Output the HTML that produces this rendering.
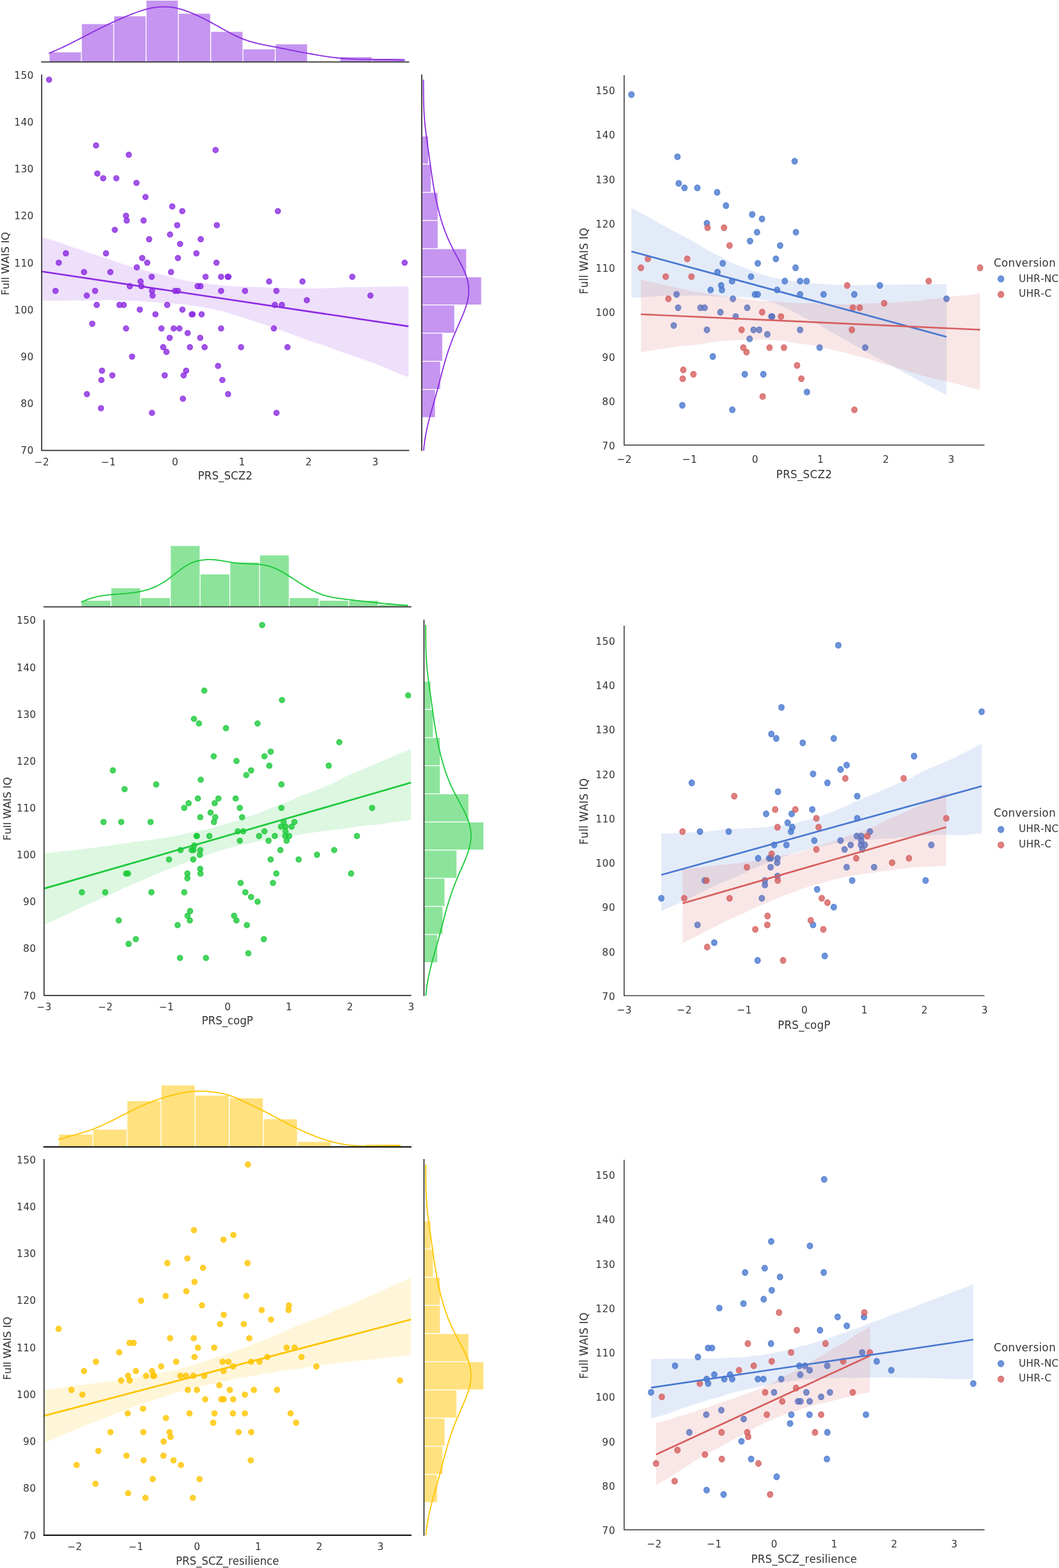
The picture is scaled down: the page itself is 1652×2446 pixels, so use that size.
<!DOCTYPE html>
<html lang="en"><head><meta charset="utf-8"><title>PRS vs Full WAIS IQ</title>
<style>html,body{margin:0;padding:0;background:#fff}svg{display:block}</style></head>
<body>
<svg width="1652" height="2446" viewBox="0 0 1652 2446" font-family='"DejaVu Sans","Liberation Sans",sans-serif' fill="#333333">
<rect width="1652" height="2446" fill="#fff"/>
<clipPath id="c1"><rect x="65" y="117" width="572.5" height="585.7"/></clipPath>
<g clip-path="url(#c1)">
<g fill="#8b2be2" stroke="#8b2be2" fill-opacity="0.8" stroke-opacity="0.8" stroke-width="1.39"><circle cx="76.55" cy="124.32" r="4.17"/><circle cx="149.83" cy="226.82" r="4.17"/><circle cx="336.26" cy="234.14" r="4.17"/><circle cx="151.81" cy="270.75" r="4.17"/><circle cx="160.97" cy="278.07" r="4.17"/><circle cx="181.48" cy="278.07" r="4.17"/><circle cx="212.91" cy="285.39" r="4.17"/><circle cx="226.97" cy="307.35" r="4.17"/><circle cx="268.71" cy="322" r="4.17"/><circle cx="284.32" cy="329.32" r="4.17"/><circle cx="196.57" cy="336.64" r="4.17"/><circle cx="276.41" cy="351.28" r="4.17"/><circle cx="338.34" cy="351.28" r="4.17"/><circle cx="265.27" cy="365.92" r="4.17"/><circle cx="313.15" cy="373.24" r="4.17"/><circle cx="306.39" cy="395.21" r="4.17"/><circle cx="221.87" cy="402.53" r="4.17"/><circle cx="277.55" cy="402.53" r="4.17"/><circle cx="337.72" cy="409.85" r="4.17"/><circle cx="213.43" cy="417.17" r="4.17"/><circle cx="266.83" cy="424.49" r="4.17"/><circle cx="236.65" cy="431.81" r="4.17"/><circle cx="320.65" cy="431.81" r="4.17"/><circle cx="344.9" cy="431.81" r="4.17"/><circle cx="355.31" cy="431.81" r="4.17"/><circle cx="219.26" cy="439.13" r="4.17"/><circle cx="202.5" cy="446.46" r="4.17"/><circle cx="220.51" cy="446.46" r="4.17"/><circle cx="308.36" cy="446.46" r="4.17"/><circle cx="273.08" cy="453.78" r="4.17"/><circle cx="277.55" cy="453.78" r="4.17"/><circle cx="344.9" cy="453.78" r="4.17"/><circle cx="148.38" cy="453.78" r="4.17"/><circle cx="238" cy="461.1" r="4.17"/><circle cx="150.88" cy="475.74" r="4.17"/><circle cx="186.37" cy="475.74" r="4.17"/><circle cx="193.03" cy="475.74" r="4.17"/><circle cx="260.8" cy="475.74" r="4.17"/><circle cx="218.12" cy="483.06" r="4.17"/><circle cx="242.48" cy="490.38" r="4.17"/><circle cx="299.2" cy="490.38" r="4.17"/><circle cx="143.9" cy="505.03" r="4.17"/><circle cx="196.68" cy="512.35" r="4.17"/><circle cx="270.89" cy="512.35" r="4.17"/><circle cx="279.84" cy="512.35" r="4.17"/><circle cx="344.9" cy="512.35" r="4.17"/><circle cx="197.72" cy="343.96" r="4.17"/><circle cx="223.95" cy="343.96" r="4.17"/><circle cx="232.69" cy="373.24" r="4.17"/><circle cx="102.78" cy="395.21" r="4.17"/><circle cx="165.34" cy="395.21" r="4.17"/><circle cx="91.65" cy="409.85" r="4.17"/><circle cx="131.1" cy="424.49" r="4.17"/><circle cx="172.11" cy="424.49" r="4.17"/><circle cx="135.37" cy="461.1" r="4.17"/><circle cx="284.53" cy="483.06" r="4.17"/><circle cx="314.51" cy="490.38" r="4.17"/><circle cx="251.84" cy="512.35" r="4.17"/><circle cx="471.89" cy="439.13" r="4.17"/><circle cx="382.27" cy="453.78" r="4.17"/><circle cx="431.19" cy="453.78" r="4.17"/><circle cx="577.86" cy="461.1" r="4.17"/><circle cx="631.25" cy="409.85" r="4.17"/><circle cx="549.54" cy="431.81" r="4.17"/><circle cx="419.85" cy="439.13" r="4.17"/><circle cx="478.66" cy="468.42" r="4.17"/><circle cx="428.8" cy="475.74" r="4.17"/><circle cx="439.73" cy="475.74" r="4.17"/><circle cx="427.24" cy="512.35" r="4.17"/><circle cx="292.75" cy="519.67" r="4.17"/><circle cx="264.65" cy="526.99" r="4.17"/><circle cx="206.04" cy="556.28" r="4.17"/><circle cx="256.94" cy="585.56" r="4.17"/><circle cx="286.51" cy="585.56" r="4.17"/><circle cx="355.83" cy="614.85" r="4.17"/><circle cx="157.54" cy="636.81" r="4.17"/><circle cx="237.06" cy="644.13" r="4.17"/><circle cx="254.55" cy="541.63" r="4.17"/><circle cx="259.65" cy="548.95" r="4.17"/><circle cx="296.29" cy="541.63" r="4.17"/><circle cx="319.19" cy="541.63" r="4.17"/><circle cx="159.1" cy="578.24" r="4.17"/><circle cx="175.23" cy="585.56" r="4.17"/><circle cx="158.16" cy="592.88" r="4.17"/><circle cx="340.11" cy="570.92" r="4.17"/><circle cx="346.88" cy="592.88" r="4.17"/><circle cx="285.36" cy="622.17" r="4.17"/><circle cx="376.02" cy="541.63" r="4.17"/><circle cx="448.47" cy="541.63" r="4.17"/><circle cx="431.3" cy="644.13" r="4.17"/><circle cx="300.45" cy="490.38" r="4.17"/><circle cx="179.08" cy="358.6" r="4.17"/><circle cx="280.99" cy="380.56" r="4.17"/><circle cx="229.67" cy="409.85" r="4.17"/><circle cx="433.48" cy="329.32" r="4.17"/><circle cx="312.74" cy="446.46" r="4.17"/><circle cx="86.55" cy="453.78" r="4.17"/><circle cx="237.17" cy="453.78" r="4.17"/><circle cx="312.32" cy="526.99" r="4.17"/><circle cx="290.36" cy="578.24" r="4.17"/><circle cx="356.45" cy="431.81" r="4.17"/><circle cx="135.57" cy="614.85" r="4.17"/><circle cx="200.94" cy="241.46" r="4.17"/></g>
<polygon points="65,369.22 70.78,371.56 76.57,373.37 82.35,375.09 88.13,376.81 93.91,378.53 99.7,380.61 105.48,383.1 111.26,385.08 117.05,386.84 122.83,388.69 128.61,390.43 134.39,392.78 140.18,394.68 145.96,396.55 151.74,398.52 157.53,400.29 163.31,402.14 169.09,403.88 174.87,405.88 180.66,407.88 186.44,410.22 192.22,411.99 198.01,414.08 203.79,415.67 209.57,417.16 215.35,418.93 221.14,420.59 226.92,422.33 232.7,423.7 238.48,425.2 244.27,426.78 250.05,427.83 255.83,429.01 261.62,430.77 267.4,431.91 273.18,433.72 278.96,435.39 284.75,436.59 290.53,437.88 296.31,438.78 302.1,439.74 307.88,440.43 313.66,441.37 319.44,441.91 325.23,442.89 331.01,443.71 336.79,443.89 342.58,445.02 348.36,445.31 354.14,445.77 359.92,446.13 365.71,446.65 371.49,446.86 377.27,446.81 383.06,447.15 388.84,447.34 394.62,447.59 400.4,447.85 406.19,447.86 411.97,448.36 417.75,448.75 423.54,449.35 429.32,449.29 435.1,449.22 440.88,449.29 446.67,449.22 452.45,449.45 458.23,449.73 464.02,449.76 469.8,449.57 475.58,449.77 481.36,449.92 487.15,450.13 492.93,449.85 498.71,449.94 504.49,449.52 510.28,449.36 516.06,449.38 521.84,449.03 527.63,448.67 533.41,448.32 539.19,448.09 544.97,448.05 550.76,448.2 556.54,448.35 562.32,447.9 568.11,447.83 573.89,447.65 579.67,447.58 585.45,447.51 591.24,447.37 597.02,447.3 602.8,447.23 608.59,447.17 614.37,447.1 620.15,447.03 625.93,446.96 631.72,446.89 637.5,446.82 637.5,588.49 631.72,586.25 625.93,584.26 620.15,581.95 614.37,579.48 608.59,577.02 602.8,574.56 597.02,572.1 591.24,569.64 585.45,567.34 579.67,565.33 573.89,563.32 568.11,561.31 562.32,559.31 556.54,557.3 550.76,555.3 544.97,553.3 539.19,551.3 533.41,549.29 527.63,547.29 521.84,545.28 516.06,543.05 510.28,540.57 504.49,538.31 498.71,536.78 492.93,535.24 487.15,533.34 481.36,531.27 475.58,529.11 469.8,526.95 464.02,524.79 458.23,522.64 452.45,520.48 446.67,518.32 440.88,516.17 435.1,514.01 429.32,512 423.54,510.33 417.75,508.16 411.97,506.25 406.19,504.3 400.4,502.42 394.62,500.39 388.84,498.61 383.06,496.71 377.27,494.96 371.49,492.91 365.71,491.27 359.92,489.81 354.14,487.63 348.36,485.99 342.58,484.85 336.79,483.49 331.01,482.1 325.23,481.11 319.44,479.69 313.66,478.66 307.88,477.93 302.1,476.93 296.31,476.27 290.53,475.03 284.75,474.27 278.96,474.21 273.18,473.65 267.4,473.36 261.62,472.91 255.83,472.81 250.05,472.32 244.27,471.54 238.48,471.16 232.7,470.97 226.92,470.43 221.14,469.89 215.35,469.33 209.57,469.26 203.79,469.27 198.01,468.82 192.22,468.72 186.44,468.81 180.66,468.75 174.87,468.41 169.09,468.09 163.31,468.29 157.53,468.47 151.74,468.64 145.96,468.7 140.18,468.73 134.39,469.04 128.61,469.23 122.83,468.86 117.05,468.8 111.26,468.87 105.48,469.1 99.7,469.01 93.91,469.09 88.13,468.92 82.35,469.06 76.57,469.07 70.78,469.08 65,469.15" fill="#8b2be2" fill-opacity="0.15"/>
<line x1="65" y1="423.47" x2="637.5" y2="509.13" stroke="#8b2be2" stroke-width="2.7" stroke-linecap="butt"/>
</g>
<clipPath id="c2"><rect x="63" y="0" width="576.5" height="96.6"/></clipPath>
<g clip-path="url(#c2)">
<g fill="#8b2be2" fill-opacity="0.5">
<rect x="77.29" y="81.6" width="49.01" height="15"/>
<rect x="127.69" y="37.6" width="49.01" height="59"/>
<rect x="178.09" y="25.4" width="49.01" height="71.2"/>
<rect x="228.49" y="1" width="49.01" height="95.6"/>
<rect x="278.89" y="21.4" width="49.01" height="75.2"/>
<rect x="329.3" y="49.7" width="49.01" height="46.9"/>
<rect x="379.69" y="77" width="49.01" height="19.6"/>
<rect x="430.09" y="69.2" width="49.01" height="27.4"/>
<rect x="530.89" y="89.1" width="49.01" height="7.5"/>
<rect x="581.3" y="91.7" width="49.01" height="4.9"/>
</g>
<path d="M76.2 83.12 L78.99 82.01 L81.78 80.87 L84.58 79.69 L87.37 78.49 L90.16 77.25 L92.95 75.99 L95.75 74.71 L98.54 73.4 L101.33 72.07 L104.12 70.72 L106.92 69.35 L109.71 67.97 L112.5 66.57 L115.29 65.16 L118.09 63.73 L120.88 62.3 L123.67 60.86 L126.46 59.42 L129.26 57.97 L132.05 56.52 L134.84 55.06 L137.63 53.61 L140.43 52.17 L143.22 50.72 L146.01 49.29 L148.8 47.86 L151.6 46.44 L154.39 45.03 L157.18 43.64 L159.97 42.26 L162.77 40.9 L165.56 39.55 L168.35 38.22 L171.14 36.9 L173.94 35.6 L176.73 34.31 L179.52 33.05 L182.31 31.79 L185.11 30.56 L187.9 29.34 L190.69 28.14 L193.48 26.96 L196.28 25.79 L199.07 24.65 L201.86 23.52 L204.65 22.41 L207.45 21.32 L210.24 20.26 L213.03 19.23 L215.82 18.24 L218.62 17.29 L221.41 16.39 L224.2 15.54 L226.99 14.74 L229.79 14.01 L232.58 13.34 L235.37 12.74 L238.16 12.21 L240.96 11.74 L243.75 11.36 L246.54 11.04 L249.33 10.81 L252.13 10.65 L254.92 10.58 L257.71 10.58 L260.5 10.67 L263.29 10.85 L266.09 11.12 L268.88 11.48 L271.67 11.93 L274.46 12.47 L277.26 13.1 L280.05 13.81 L282.84 14.6 L285.63 15.46 L288.43 16.39 L291.22 17.38 L294.01 18.43 L296.8 19.53 L299.6 20.68 L302.39 21.88 L305.18 23.12 L307.97 24.39 L310.77 25.69 L313.56 27.03 L316.35 28.39 L319.14 29.78 L321.94 31.2 L324.73 32.65 L327.52 34.13 L330.31 35.64 L333.11 37.17 L335.9 38.71 L338.69 40.27 L341.48 41.84 L344.28 43.4 L347.07 44.96 L349.86 46.51 L352.65 48.05 L355.45 49.57 L358.24 51.06 L361.03 52.52 L363.82 53.94 L366.62 55.32 L369.41 56.65 L372.2 57.93 L374.99 59.15 L377.79 60.31 L380.58 61.4 L383.37 62.42 L386.16 63.38 L388.96 64.29 L391.75 65.14 L394.54 65.94 L397.33 66.69 L400.13 67.4 L402.92 68.08 L405.71 68.72 L408.5 69.33 L411.3 69.92 L414.09 70.49 L416.88 71.04 L419.67 71.58 L422.47 72.12 L425.26 72.64 L428.05 73.17 L430.84 73.7 L433.64 74.24 L436.43 74.78 L439.22 75.32 L442.01 75.86 L444.81 76.41 L447.6 76.96 L450.39 77.51 L453.18 78.06 L455.97 78.61 L458.77 79.16 L461.56 79.71 L464.35 80.26 L467.14 80.81 L469.94 81.35 L472.73 81.89 L475.52 82.42 L478.31 82.95 L481.11 83.47 L483.9 83.98 L486.69 84.49 L489.48 84.98 L492.28 85.47 L495.07 85.95 L497.86 86.41 L500.65 86.86 L503.45 87.3 L506.24 87.73 L509.03 88.14 L511.82 88.53 L514.62 88.91 L517.41 89.27 L520.2 89.61 L522.99 89.94 L525.79 90.24 L528.58 90.53 L531.37 90.79 L534.16 91.03 L536.96 91.25 L539.75 91.45 L542.54 91.63 L545.33 91.8 L548.13 91.94 L550.92 92.07 L553.71 92.19 L556.5 92.29 L559.3 92.38 L562.09 92.46 L564.88 92.53 L567.67 92.59 L570.47 92.64 L573.26 92.68 L576.05 92.71 L578.84 92.74 L581.64 92.77 L584.43 92.79 L587.22 92.81 L590.01 92.83 L592.81 92.85 L595.6 92.87 L598.39 92.89 L601.18 92.91 L603.98 92.94 L606.77 92.97 L609.56 93.01 L612.35 93.06 L615.15 93.11 L617.94 93.17 L620.73 93.24 L623.52 93.33 L626.32 93.42 L629.11 93.53 L631.9 93.65" fill="none" stroke="#8b2be2" stroke-width="1.8" stroke-linejoin="round" stroke-linecap="butt"/>
</g>
<line x1="65" y1="96.6" x2="637.5" y2="96.6" stroke="#303030" stroke-width="1.74" stroke-linecap="square"/>
<clipPath id="c3"><rect x="657.9" y="117" width="100" height="585.7"/></clipPath>
<g clip-path="url(#c3)">
<g fill="#8b2be2" fill-opacity="0.5">
<rect x="657.9" y="608.22" width="20.7" height="42.54"/>
<rect x="657.9" y="564.29" width="28.9" height="42.54"/>
<rect x="657.9" y="520.36" width="32" height="42.54"/>
<rect x="657.9" y="476.44" width="50.7" height="42.54"/>
<rect x="657.9" y="432.51" width="92.7" height="42.54"/>
<rect x="657.9" y="388.58" width="69.3" height="42.54"/>
<rect x="657.9" y="344.65" width="24.8" height="42.54"/>
<rect x="657.9" y="300.73" width="24.8" height="42.54"/>
<rect x="657.9" y="256.8" width="14" height="42.54"/>
<rect x="657.9" y="212.87" width="10.1" height="42.54"/>
</g>
<path d="M659.41 739.31 L659.48 736.22 L659.55 733.13 L659.62 730.04 L659.7 726.94 L659.79 723.85 L659.88 720.76 L660 717.67 L660.13 714.58 L660.28 711.49 L660.45 708.4 L660.64 705.31 L660.87 702.22 L661.17 699.13 L661.5 696.04 L661.86 692.95 L662.26 689.86 L662.7 686.77 L663.17 683.68 L663.68 680.59 L664.22 677.5 L664.81 674.41 L665.43 671.32 L666.08 668.23 L666.77 665.14 L667.49 662.05 L668.23 658.96 L669.01 655.87 L669.81 652.78 L670.63 649.69 L671.46 646.59 L672.32 643.5 L673.18 640.41 L674.06 637.32 L674.95 634.23 L675.84 631.14 L676.73 628.05 L677.62 624.96 L678.51 621.87 L679.4 618.78 L680.29 615.69 L681.14 612.6 L681.97 609.51 L682.79 606.42 L683.61 603.33 L684.43 600.24 L685.24 597.15 L686.05 594.06 L686.86 590.97 L687.67 587.88 L688.48 584.79 L689.29 581.7 L690.11 578.61 L690.94 575.52 L691.78 572.43 L692.63 569.34 L693.5 566.25 L694.39 563.15 L695.29 560.06 L696.22 556.97 L697.18 553.88 L698.16 550.79 L699.17 547.7 L700.21 544.61 L701.28 541.52 L702.38 538.43 L703.52 535.34 L704.69 532.25 L705.88 529.16 L707.11 526.07 L708.37 522.98 L709.65 519.89 L710.96 516.8 L712.29 513.71 L713.64 510.62 L714.99 507.53 L716.35 504.44 L717.7 501.35 L719.05 498.26 L720.38 495.17 L721.68 492.08 L722.94 488.99 L724.15 485.9 L725.3 482.8 L726.39 479.71 L727.39 476.62 L728.3 473.53 L729.1 470.44 L729.8 467.35 L730.37 464.26 L730.81 461.17 L731.11 458.08 L731.26 454.99 L731.27 451.9 L731.13 448.81 L730.83 445.72 L730.38 442.63 L729.79 439.54 L729.05 436.45 L728.17 433.36 L727.17 430.27 L726.04 427.18 L724.8 424.09 L723.46 421 L722.04 417.91 L720.54 414.82 L718.99 411.73 L717.38 408.64 L715.75 405.55 L714.09 402.46 L712.42 399.36 L710.76 396.27 L709.11 393.18 L707.48 390.09 L705.88 387 L704.32 383.91 L702.81 380.82 L701.34 377.73 L699.92 374.64 L698.55 371.55 L697.23 368.46 L695.97 365.37 L694.76 362.28 L693.6 359.19 L692.48 356.1 L691.42 353.01 L690.39 349.92 L689.41 346.83 L688.46 343.74 L687.54 340.65 L686.66 337.56 L685.81 334.47 L684.99 331.38 L684.19 328.29 L683.42 325.2 L682.67 322.11 L681.94 319.01 L681.24 315.92 L680.56 312.83 L679.9 309.74 L679.27 306.65 L678.65 303.56 L678.06 300.47 L677.48 297.38 L676.93 294.29 L676.39 291.2 L675.87 288.11 L675.37 285.02 L674.88 281.93 L674.41 278.84 L673.95 275.75 L673.49 272.66 L673.05 269.57 L672.61 266.48 L672.18 263.39 L671.74 260.3 L671.32 257.21 L670.89 254.12 L670.46 251.03 L670.03 247.94 L669.59 244.85 L669.16 241.76 L668.72 238.67 L668.29 235.57 L667.85 232.48 L667.41 229.39 L666.97 226.3 L666.54 223.21 L666.11 220.12 L665.69 217.03 L665.27 213.94 L664.87 210.85 L664.47 207.76 L664.1 204.67 L663.73 201.58 L663.39 198.49 L663.07 195.4 L662.76 192.31 L662.48 189.22 L662.22 186.13 L661.98 183.04 L661.76 179.95 L661.57 176.86 L661.4 173.77 L661.25 170.68 L661.13 167.59 L661.02 164.5 L660.93 161.41 L660.85 158.32 L660.79 155.23 L660.74 152.13 L660.7 149.04 L660.67 145.95 L660.65 142.86 L660.62 139.77 L660.61 136.68 L660.59 133.59 L660.57 130.5 L660.54 127.41 L660.52 124.32" fill="none" stroke="#8b2be2" stroke-width="1.8" stroke-linejoin="round"/>
</g>
<line x1="657.9" y1="117" x2="657.9" y2="702.7" stroke="#303030" stroke-width="1.74" stroke-linecap="square"/>
<path d="M65 117V702.7H637.5" fill="none" stroke="#303030" stroke-width="1.74" stroke-linecap="square" stroke-linejoin="round"/>
<text transform="translate(52.3 708.4) scale(1 0.98)" font-size="15.28" text-anchor="end" textLength="20" lengthAdjust="spacing" style="font-kerning:none">70</text>
<text transform="translate(52.3 635.19) scale(1 0.98)" font-size="15.28" text-anchor="end" textLength="20" lengthAdjust="spacing" style="font-kerning:none">80</text>
<text transform="translate(52.3 561.98) scale(1 0.98)" font-size="15.28" text-anchor="end" textLength="20" lengthAdjust="spacing" style="font-kerning:none">90</text>
<text transform="translate(52.3 488.76) scale(1 0.98)" font-size="15.28" text-anchor="end" textLength="30" lengthAdjust="spacing" style="font-kerning:none">100</text>
<text transform="translate(52.3 415.55) scale(1 0.98)" font-size="15.28" text-anchor="end" textLength="30" lengthAdjust="spacing" style="font-kerning:none">110</text>
<text transform="translate(52.3 342.34) scale(1 0.98)" font-size="15.28" text-anchor="end" textLength="30" lengthAdjust="spacing" style="font-kerning:none">120</text>
<text transform="translate(52.3 269.12) scale(1 0.98)" font-size="15.28" text-anchor="end" textLength="30" lengthAdjust="spacing" style="font-kerning:none">130</text>
<text transform="translate(52.3 195.91) scale(1 0.98)" font-size="15.28" text-anchor="end" textLength="30" lengthAdjust="spacing" style="font-kerning:none">140</text>
<text transform="translate(52.3 122.7) scale(1 0.98)" font-size="15.28" text-anchor="end" textLength="30" lengthAdjust="spacing" style="font-kerning:none">150</text>
<text transform="translate(65 726.2) scale(1 0.98)" font-size="15.28" text-anchor="middle" textLength="23" lengthAdjust="spacing" style="font-kerning:none">−2</text>
<text transform="translate(169.09 726.2) scale(1 0.98)" font-size="15.28" text-anchor="middle" textLength="23" lengthAdjust="spacing" style="font-kerning:none">−1</text>
<text transform="translate(273.18 726.2) scale(1 0.98)" font-size="15.28" text-anchor="middle" textLength="10" lengthAdjust="spacing" style="font-kerning:none">0</text>
<text transform="translate(377.27 726.2) scale(1 0.98)" font-size="15.28" text-anchor="middle" textLength="10" lengthAdjust="spacing" style="font-kerning:none">1</text>
<text transform="translate(481.36 726.2) scale(1 0.98)" font-size="15.28" text-anchor="middle" textLength="10" lengthAdjust="spacing" style="font-kerning:none">2</text>
<text transform="translate(585.45 726.2) scale(1 0.98)" font-size="15.28" text-anchor="middle" textLength="10" lengthAdjust="spacing" style="font-kerning:none">3</text>
<text transform="translate(351.25 748.2) scale(1 1.05)" font-size="16.67" text-anchor="middle" textLength="85" lengthAdjust="spacing" style="font-kerning:none">PRS_SCZ2</text>
<text transform="translate(13.65 411.25) rotate(-90)" font-size="16.67" text-anchor="middle" textLength="99" lengthAdjust="spacing" style="font-kerning:none">Full WAIS IQ</text>
<clipPath id="c4"><rect x="68.7" y="967.7" width="572.7" height="585.2"/></clipPath>
<g clip-path="url(#c4)">
<g fill="#1ac938" stroke="#1ac938" fill-opacity="0.8" stroke-opacity="0.8" stroke-width="1.39"><circle cx="318.68" cy="1077.43" r="4.17"/><circle cx="302.55" cy="1121.32" r="4.17"/><circle cx="310.38" cy="1128.63" r="4.17"/><circle cx="352.47" cy="1135.95" r="4.17"/><circle cx="408.98" cy="975.02" r="4.17"/><circle cx="636.82" cy="1084.74" r="4.17"/><circle cx="401.82" cy="1128.63" r="4.17"/><circle cx="529.34" cy="1157.89" r="4.17"/><circle cx="176.08" cy="1201.78" r="4.17"/><circle cx="313.15" cy="1216.41" r="4.17"/><circle cx="294.25" cy="1252.99" r="4.17"/><circle cx="334.91" cy="1252.99" r="4.17"/><circle cx="328.51" cy="1267.62" r="4.17"/><circle cx="335.86" cy="1274.93" r="4.17"/><circle cx="333.76" cy="1282.25" r="4.17"/><circle cx="189.16" cy="1282.25" r="4.17"/><circle cx="234.88" cy="1282.25" r="4.17"/><circle cx="307.13" cy="1304.19" r="4.17"/><circle cx="326.61" cy="1304.19" r="4.17"/><circle cx="281.55" cy="1326.13" r="4.17"/><circle cx="298.93" cy="1326.13" r="4.17"/><circle cx="301.88" cy="1326.13" r="4.17"/><circle cx="312.38" cy="1326.13" r="4.17"/><circle cx="311.81" cy="1333.45" r="4.17"/><circle cx="301.41" cy="1340.77" r="4.17"/><circle cx="243.66" cy="1223.73" r="4.17"/><circle cx="308.66" cy="1245.67" r="4.17"/><circle cx="340.73" cy="1245.67" r="4.17"/><circle cx="312.38" cy="1274.93" r="4.17"/><circle cx="161.48" cy="1282.25" r="4.17"/><circle cx="303.03" cy="1318.82" r="4.17"/><circle cx="263.7" cy="1340.77" r="4.17"/><circle cx="422.25" cy="1172.52" r="4.17"/><circle cx="412.51" cy="1179.84" r="4.17"/><circle cx="368.89" cy="1187.15" r="4.17"/><circle cx="391.7" cy="1201.78" r="4.17"/><circle cx="439.05" cy="1223.73" r="4.17"/><circle cx="367.55" cy="1245.67" r="4.17"/><circle cx="439.05" cy="1260.3" r="4.17"/><circle cx="459.28" cy="1282.25" r="4.17"/><circle cx="370.89" cy="1296.88" r="4.17"/><circle cx="412.51" cy="1296.88" r="4.17"/><circle cx="438.38" cy="1289.56" r="4.17"/><circle cx="445.44" cy="1289.56" r="4.17"/><circle cx="445.44" cy="1296.88" r="4.17"/><circle cx="444.87" cy="1304.19" r="4.17"/><circle cx="451.07" cy="1304.19" r="4.17"/><circle cx="447.16" cy="1311.51" r="4.17"/><circle cx="428.64" cy="1304.19" r="4.17"/><circle cx="418.91" cy="1311.51" r="4.17"/><circle cx="556.83" cy="1304.19" r="4.17"/><circle cx="422.25" cy="1340.77" r="4.17"/><circle cx="465.87" cy="1340.77" r="4.17"/><circle cx="420.15" cy="1194.47" r="4.17"/><circle cx="512.83" cy="1194.47" r="4.17"/><circle cx="374.14" cy="1260.3" r="4.17"/><circle cx="377.67" cy="1274.93" r="4.17"/><circle cx="454.99" cy="1289.56" r="4.17"/><circle cx="374.14" cy="1311.51" r="4.17"/><circle cx="437.42" cy="1326.13" r="4.17"/><circle cx="521.32" cy="1326.13" r="4.17"/><circle cx="494.5" cy="1333.45" r="4.17"/><circle cx="580.5" cy="1260.3" r="4.17"/><circle cx="312.38" cy="1355.39" r="4.17"/><circle cx="292.34" cy="1362.71" r="4.17"/><circle cx="292.34" cy="1370.03" r="4.17"/><circle cx="196.7" cy="1362.71" r="4.17"/><circle cx="127.78" cy="1391.97" r="4.17"/><circle cx="287.47" cy="1391.97" r="4.17"/><circle cx="185.24" cy="1435.86" r="4.17"/><circle cx="211.88" cy="1465.12" r="4.17"/><circle cx="280.79" cy="1494.38" r="4.17"/><circle cx="199.66" cy="1362.71" r="4.17"/><circle cx="312.77" cy="1362.71" r="4.17"/><circle cx="164.15" cy="1391.97" r="4.17"/><circle cx="236.21" cy="1391.97" r="4.17"/><circle cx="296.54" cy="1421.23" r="4.17"/><circle cx="296.16" cy="1435.86" r="4.17"/><circle cx="277.07" cy="1443.18" r="4.17"/><circle cx="200.61" cy="1472.44" r="4.17"/><circle cx="321.26" cy="1494.38" r="4.17"/><circle cx="431.03" cy="1362.71" r="4.17"/><circle cx="547.67" cy="1362.71" r="4.17"/><circle cx="375.38" cy="1377.34" r="4.17"/><circle cx="401.82" cy="1406.6" r="4.17"/><circle cx="368.89" cy="1435.86" r="4.17"/><circle cx="387.41" cy="1487.07" r="4.17"/><circle cx="382.73" cy="1391.97" r="4.17"/><circle cx="391.7" cy="1399.29" r="4.17"/><circle cx="365.17" cy="1428.55" r="4.17"/><circle cx="385.12" cy="1443.18" r="4.17"/><circle cx="333.38" cy="1179.84" r="4.17"/><circle cx="194.31" cy="1231.04" r="4.17"/><circle cx="287.38" cy="1260.3" r="4.17"/><circle cx="306.66" cy="1304.19" r="4.17"/><circle cx="404.11" cy="1304.19" r="4.17"/><circle cx="384.16" cy="1209.1" r="4.17"/><circle cx="442.48" cy="1282.25" r="4.17"/><circle cx="379.39" cy="1296.88" r="4.17"/><circle cx="425.87" cy="1377.34" r="4.17"/><circle cx="292.53" cy="1428.55" r="4.17"/><circle cx="411.56" cy="1465.12" r="4.17"/><circle cx="439.91" cy="1092.06" r="4.17"/></g>
<polygon points="68.7,1331.26 74.48,1330.68 80.27,1330.08 86.05,1329.32 91.84,1328.77 97.62,1328.11 103.41,1327.45 109.19,1326.76 114.98,1326.01 120.76,1325.3 126.55,1324.7 132.33,1324.09 138.12,1323.45 143.9,1322.77 149.69,1322.09 155.47,1321.32 161.26,1320.39 167.04,1319.55 172.83,1318.73 178.61,1317.69 184.4,1316.92 190.18,1316.15 195.97,1315.78 201.75,1314.85 207.54,1313.84 213.32,1313.06 219.11,1312.28 224.89,1311.51 230.68,1310.73 236.46,1309.92 242.25,1308.96 248.03,1308.28 253.82,1307.37 259.6,1306.44 265.38,1305.52 271.17,1304.58 276.95,1303.59 282.74,1302.25 288.52,1300.79 294.31,1299.34 300.09,1298.08 305.88,1297.11 311.66,1295.76 317.45,1294.41 323.23,1293.74 329.02,1292.05 334.8,1290.33 340.59,1288.65 346.37,1287.12 352.16,1285.31 357.94,1283.52 363.73,1281.78 369.51,1280.02 375.3,1278.1 381.08,1275.6 386.87,1273.9 392.65,1271.97 398.44,1270.33 404.22,1268.43 410.01,1266.24 415.79,1263.61 421.58,1261.31 427.36,1258.95 433.15,1256.75 438.93,1254.8 444.72,1252.44 450.5,1249.92 456.28,1247.51 462.07,1244.64 467.85,1241.86 473.64,1239.76 479.42,1237.68 485.21,1235.6 490.99,1233.51 496.78,1231.47 502.56,1229.35 508.35,1226.8 514.13,1224.25 519.92,1221.57 525.7,1218.76 531.49,1215.49 537.27,1212.6 543.06,1209.85 548.84,1207.4 554.63,1204.96 560.41,1202.38 566.2,1199.66 571.98,1197.2 577.77,1195.02 583.55,1192.53 589.34,1189.9 595.12,1187.47 600.91,1185.04 606.69,1182.62 612.48,1180.2 618.26,1177.78 624.05,1175.36 629.83,1172.94 635.62,1170.53 641.4,1168.13 641.4,1279.32 635.62,1280.02 629.83,1280.71 624.05,1281.39 618.26,1282.07 612.48,1282.8 606.69,1283.72 600.91,1284.62 595.12,1285.52 589.34,1286.2 583.55,1286.63 577.77,1287.07 571.98,1287.5 566.2,1288.11 560.41,1289.03 554.63,1289.97 548.84,1290.91 543.06,1291.84 537.27,1292.66 531.49,1293.63 525.7,1294.23 519.92,1294.83 514.13,1295.41 508.35,1296.33 502.56,1296.74 496.78,1297.48 490.99,1298.35 485.21,1299.23 479.42,1300.09 473.64,1300.96 467.85,1301.82 462.07,1302.68 456.28,1303.44 450.5,1304.41 444.72,1305.26 438.93,1306.12 433.15,1306.97 427.36,1307.96 421.58,1308.77 415.79,1309.69 410.01,1310.53 404.22,1312.29 398.44,1313.58 392.65,1314.52 386.87,1315.88 381.08,1317.23 375.3,1318.58 369.51,1319.93 363.73,1321.06 357.94,1322.59 352.16,1324.56 346.37,1326.23 340.59,1328.05 334.8,1329.88 329.02,1331.71 323.23,1333.57 317.45,1335.48 311.66,1337.57 305.88,1339.66 300.09,1341.75 294.31,1343.95 288.52,1346.19 282.74,1348.34 276.95,1350.49 271.17,1352.76 265.38,1354.92 259.6,1357.04 253.82,1359.56 248.03,1361.93 242.25,1364.32 236.46,1366.68 230.68,1369.14 224.89,1371.75 219.11,1374.26 213.32,1376.68 207.54,1379.1 201.75,1382.05 195.97,1384.37 190.18,1387 184.4,1389.64 178.61,1392.41 172.83,1395.01 167.04,1397.68 161.26,1400.39 155.47,1402.85 149.69,1405.41 143.9,1408.01 138.12,1410.6 132.33,1413.08 126.55,1415.83 120.76,1418.52 114.98,1421.25 109.19,1423.99 103.41,1426.82 97.62,1429.54 91.84,1432.21 86.05,1434.78 80.27,1437.46 74.48,1440.06 68.7,1442.88" fill="#1ac938" fill-opacity="0.15"/>
<line x1="68.7" y1="1386.12" x2="641.4" y2="1220.8" stroke="#1ac938" stroke-width="2.7" stroke-linecap="butt"/>
</g>
<clipPath id="c5"><rect x="66.7" y="845" width="576.7" height="101.6"/></clipPath>
<g clip-path="url(#c5)">
<g fill="#1ac938" fill-opacity="0.5">
<rect x="127.29" y="937.1" width="44.99" height="9.5"/>
<rect x="173.67" y="917.6" width="44.99" height="29"/>
<rect x="220.06" y="932.9" width="44.99" height="13.7"/>
<rect x="266.44" y="851.7" width="44.99" height="94.9"/>
<rect x="312.81" y="896" width="44.99" height="50.6"/>
<rect x="359.19" y="877.5" width="44.99" height="69.1"/>
<rect x="405.57" y="866.4" width="44.99" height="80.2"/>
<rect x="451.95" y="932.9" width="44.99" height="13.7"/>
<rect x="498.33" y="937.1" width="44.99" height="9.5"/>
<rect x="544.72" y="937.1" width="44.99" height="9.5"/>
<rect x="591.1" y="943.4" width="44.99" height="3.2"/>
</g>
<path d="M126.5 939.62 L129.06 938.36 L131.63 937.2 L134.19 936.13 L136.75 935.14 L139.32 934.22 L141.88 933.39 L144.44 932.62 L147.01 931.92 L149.57 931.28 L152.13 930.71 L154.7 930.18 L157.26 929.71 L159.82 929.28 L162.39 928.9 L164.95 928.55 L167.51 928.23 L170.08 927.95 L172.64 927.69 L175.2 927.46 L177.77 927.24 L180.33 927.03 L182.89 926.84 L185.46 926.65 L188.02 926.46 L190.58 926.26 L193.15 926.06 L195.71 925.85 L198.27 925.62 L200.84 925.38 L203.4 925.11 L205.96 924.81 L208.53 924.48 L211.09 924.11 L213.65 923.71 L216.22 923.26 L218.78 922.76 L221.34 922.21 L223.91 921.6 L226.47 920.93 L229.03 920.2 L231.6 919.4 L234.16 918.53 L236.72 917.58 L239.29 916.55 L241.85 915.43 L244.41 914.22 L246.98 912.93 L249.54 911.55 L252.1 910.09 L254.67 908.54 L257.23 906.91 L259.79 905.2 L262.36 903.41 L264.92 901.54 L267.48 899.59 L270.05 897.59 L272.61 895.55 L275.17 893.51 L277.74 891.48 L280.3 889.48 L282.86 887.56 L285.43 885.71 L287.99 883.98 L290.55 882.39 L293.12 880.93 L295.68 879.62 L298.24 878.45 L300.81 877.4 L303.37 876.48 L305.93 875.67 L308.5 874.98 L311.06 874.4 L313.62 873.93 L316.19 873.55 L318.75 873.27 L321.31 873.07 L323.88 872.96 L326.44 872.93 L329 872.96 L331.57 873.07 L334.13 873.24 L336.69 873.47 L339.26 873.75 L341.82 874.07 L344.38 874.44 L346.95 874.84 L349.51 875.27 L352.07 875.71 L354.64 876.16 L357.2 876.61 L359.76 877.04 L362.33 877.45 L364.89 877.84 L367.45 878.18 L370.02 878.48 L372.58 878.72 L375.14 878.92 L377.71 879.09 L380.27 879.22 L382.83 879.33 L385.39 879.43 L387.96 879.53 L390.52 879.62 L393.08 879.73 L395.65 879.85 L398.21 880 L400.77 880.18 L403.34 880.4 L405.9 880.67 L408.46 880.99 L411.03 881.37 L413.59 881.83 L416.15 882.36 L418.72 882.99 L421.28 883.7 L423.84 884.51 L426.41 885.44 L428.97 886.48 L431.53 887.62 L434.1 888.86 L436.66 890.19 L439.22 891.59 L441.79 893.06 L444.35 894.58 L446.91 896.15 L449.48 897.75 L452.04 899.38 L454.6 901.02 L457.17 902.68 L459.73 904.34 L462.29 906 L464.86 907.65 L467.42 909.29 L469.98 910.91 L472.55 912.51 L475.11 914.08 L477.67 915.62 L480.24 917.11 L482.8 918.56 L485.36 919.95 L487.93 921.29 L490.49 922.56 L493.05 923.77 L495.62 924.9 L498.18 925.94 L500.74 926.91 L503.31 927.8 L505.87 928.62 L508.43 929.37 L511 930.06 L513.56 930.69 L516.12 931.27 L518.69 931.8 L521.25 932.28 L523.81 932.72 L526.38 933.13 L528.94 933.51 L531.5 933.86 L534.07 934.2 L536.63 934.51 L539.19 934.81 L541.76 935.11 L544.32 935.4 L546.88 935.69 L549.45 935.99 L552.01 936.28 L554.57 936.57 L557.14 936.87 L559.7 937.16 L562.26 937.45 L564.83 937.74 L567.39 938.02 L569.95 938.31 L572.52 938.6 L575.08 938.88 L577.64 939.16 L580.21 939.43 L582.77 939.71 L585.33 939.98 L587.9 940.25 L590.46 940.51 L593.02 940.77 L595.59 941.03 L598.15 941.28 L600.71 941.53 L603.28 941.77 L605.84 942.01 L608.4 942.25 L610.97 942.47 L613.53 942.69 L616.09 942.91 L618.66 943.12 L621.22 943.32 L623.78 943.52 L626.35 943.71 L628.91 943.9 L631.47 944.07 L634.04 944.24 L636.6 944.4" fill="none" stroke="#1ac938" stroke-width="1.8" stroke-linejoin="round" stroke-linecap="butt"/>
</g>
<line x1="68.7" y1="946.6" x2="640.8" y2="946.6" stroke="#303030" stroke-width="1.74" stroke-linecap="square"/>
<clipPath id="c6"><rect x="661.4" y="967.7" width="100" height="585.2"/></clipPath>
<g clip-path="url(#c6)">
<g fill="#1ac938" fill-opacity="0.5">
<rect x="661.4" y="1458.5" width="20.7" height="42.5"/>
<rect x="661.4" y="1414.61" width="28.9" height="42.5"/>
<rect x="661.4" y="1370.72" width="32" height="42.5"/>
<rect x="661.4" y="1326.83" width="50.7" height="42.5"/>
<rect x="661.4" y="1282.94" width="92.7" height="42.5"/>
<rect x="661.4" y="1239.05" width="69.3" height="42.5"/>
<rect x="661.4" y="1195.16" width="24.8" height="42.5"/>
<rect x="661.4" y="1151.27" width="24.8" height="42.5"/>
<rect x="661.4" y="1107.38" width="14" height="42.5"/>
<rect x="661.4" y="1063.49" width="10.1" height="42.5"/>
</g>
<path d="M662.91 1589.48 L662.98 1586.39 L663.05 1583.3 L663.12 1580.21 L663.2 1577.12 L663.29 1574.04 L663.38 1570.95 L663.5 1567.86 L663.63 1564.77 L663.78 1561.69 L663.95 1558.6 L664.14 1555.51 L664.37 1552.42 L664.67 1549.33 L665 1546.25 L665.36 1543.16 L665.76 1540.07 L666.2 1536.98 L666.67 1533.9 L667.18 1530.81 L667.72 1527.72 L668.31 1524.63 L668.93 1521.54 L669.58 1518.46 L670.27 1515.37 L670.99 1512.28 L671.73 1509.19 L672.51 1506.11 L673.31 1503.02 L674.13 1499.93 L674.96 1496.84 L675.82 1493.76 L676.68 1490.67 L677.56 1487.58 L678.45 1484.49 L679.34 1481.4 L680.23 1478.32 L681.12 1475.23 L682.01 1472.14 L682.9 1469.05 L683.79 1465.97 L684.64 1462.88 L685.47 1459.79 L686.29 1456.7 L687.11 1453.61 L687.93 1450.53 L688.74 1447.44 L689.55 1444.35 L690.36 1441.26 L691.17 1438.18 L691.98 1435.09 L692.79 1432 L693.61 1428.91 L694.44 1425.82 L695.28 1422.74 L696.13 1419.65 L697 1416.56 L697.89 1413.47 L698.79 1410.39 L699.72 1407.3 L700.68 1404.21 L701.66 1401.12 L702.67 1398.04 L703.71 1394.95 L704.78 1391.86 L705.88 1388.77 L707.02 1385.68 L708.19 1382.6 L709.38 1379.51 L710.61 1376.42 L711.87 1373.33 L713.15 1370.25 L714.46 1367.16 L715.79 1364.07 L717.14 1360.98 L718.49 1357.89 L719.85 1354.81 L721.2 1351.72 L722.55 1348.63 L723.88 1345.54 L725.18 1342.46 L726.44 1339.37 L727.65 1336.28 L728.8 1333.19 L729.89 1330.1 L730.89 1327.02 L731.8 1323.93 L732.6 1320.84 L733.3 1317.75 L733.87 1314.67 L734.31 1311.58 L734.61 1308.49 L734.76 1305.4 L734.77 1302.32 L734.63 1299.23 L734.33 1296.14 L733.88 1293.05 L733.29 1289.96 L732.55 1286.88 L731.67 1283.79 L730.67 1280.7 L729.54 1277.61 L728.3 1274.53 L726.96 1271.44 L725.54 1268.35 L724.04 1265.26 L722.49 1262.17 L720.88 1259.09 L719.25 1256 L717.59 1252.91 L715.92 1249.82 L714.26 1246.74 L712.61 1243.65 L710.98 1240.56 L709.38 1237.47 L707.82 1234.39 L706.31 1231.3 L704.84 1228.21 L703.42 1225.12 L702.05 1222.03 L700.73 1218.95 L699.47 1215.86 L698.26 1212.77 L697.1 1209.68 L695.98 1206.6 L694.92 1203.51 L693.89 1200.42 L692.91 1197.33 L691.96 1194.24 L691.04 1191.16 L690.16 1188.07 L689.31 1184.98 L688.49 1181.89 L687.69 1178.81 L686.92 1175.72 L686.17 1172.63 L685.44 1169.54 L684.74 1166.45 L684.06 1163.37 L683.4 1160.28 L682.77 1157.19 L682.15 1154.1 L681.56 1151.02 L680.98 1147.93 L680.43 1144.84 L679.89 1141.75 L679.37 1138.67 L678.87 1135.58 L678.38 1132.49 L677.91 1129.4 L677.45 1126.31 L676.99 1123.23 L676.55 1120.14 L676.11 1117.05 L675.68 1113.96 L675.24 1110.88 L674.82 1107.79 L674.39 1104.7 L673.96 1101.61 L673.53 1098.52 L673.09 1095.44 L672.66 1092.35 L672.22 1089.26 L671.79 1086.17 L671.35 1083.09 L670.91 1080 L670.47 1076.91 L670.04 1073.82 L669.61 1070.73 L669.19 1067.65 L668.77 1064.56 L668.37 1061.47 L667.97 1058.38 L667.6 1055.3 L667.23 1052.21 L666.89 1049.12 L666.57 1046.03 L666.26 1042.95 L665.98 1039.86 L665.72 1036.77 L665.48 1033.68 L665.26 1030.59 L665.07 1027.51 L664.9 1024.42 L664.75 1021.33 L664.63 1018.24 L664.52 1015.16 L664.43 1012.07 L664.35 1008.98 L664.29 1005.89 L664.24 1002.8 L664.2 999.72 L664.17 996.63 L664.15 993.54 L664.12 990.45 L664.11 987.37 L664.09 984.28 L664.07 981.19 L664.04 978.1 L664.02 975.02" fill="none" stroke="#1ac938" stroke-width="1.8" stroke-linejoin="round"/>
</g>
<line x1="661.4" y1="967.7" x2="661.4" y2="1552.9" stroke="#303030" stroke-width="1.74" stroke-linecap="square"/>
<path d="M68.7 967.7V1552.9H640.8" fill="none" stroke="#303030" stroke-width="1.74" stroke-linecap="square" stroke-linejoin="round"/>
<text transform="translate(56 1558.6) scale(1 0.98)" font-size="15.28" text-anchor="end" textLength="20" lengthAdjust="spacing" style="font-kerning:none">70</text>
<text transform="translate(56 1485.45) scale(1 0.98)" font-size="15.28" text-anchor="end" textLength="20" lengthAdjust="spacing" style="font-kerning:none">80</text>
<text transform="translate(56 1412.3) scale(1 0.98)" font-size="15.28" text-anchor="end" textLength="20" lengthAdjust="spacing" style="font-kerning:none">90</text>
<text transform="translate(56 1339.15) scale(1 0.98)" font-size="15.28" text-anchor="end" textLength="30" lengthAdjust="spacing" style="font-kerning:none">100</text>
<text transform="translate(56 1266) scale(1 0.98)" font-size="15.28" text-anchor="end" textLength="30" lengthAdjust="spacing" style="font-kerning:none">110</text>
<text transform="translate(56 1192.85) scale(1 0.98)" font-size="15.28" text-anchor="end" textLength="30" lengthAdjust="spacing" style="font-kerning:none">120</text>
<text transform="translate(56 1119.7) scale(1 0.98)" font-size="15.28" text-anchor="end" textLength="30" lengthAdjust="spacing" style="font-kerning:none">130</text>
<text transform="translate(56 1046.55) scale(1 0.98)" font-size="15.28" text-anchor="end" textLength="30" lengthAdjust="spacing" style="font-kerning:none">140</text>
<text transform="translate(56 973.4) scale(1 0.98)" font-size="15.28" text-anchor="end" textLength="30" lengthAdjust="spacing" style="font-kerning:none">150</text>
<text transform="translate(68.7 1576.4) scale(1 0.98)" font-size="15.28" text-anchor="middle" textLength="23" lengthAdjust="spacing" style="font-kerning:none">−3</text>
<text transform="translate(164.15 1576.4) scale(1 0.98)" font-size="15.28" text-anchor="middle" textLength="23" lengthAdjust="spacing" style="font-kerning:none">−2</text>
<text transform="translate(259.6 1576.4) scale(1 0.98)" font-size="15.28" text-anchor="middle" textLength="23" lengthAdjust="spacing" style="font-kerning:none">−1</text>
<text transform="translate(355.05 1576.4) scale(1 0.98)" font-size="15.28" text-anchor="middle" textLength="10" lengthAdjust="spacing" style="font-kerning:none">0</text>
<text transform="translate(450.5 1576.4) scale(1 0.98)" font-size="15.28" text-anchor="middle" textLength="10" lengthAdjust="spacing" style="font-kerning:none">1</text>
<text transform="translate(545.95 1576.4) scale(1 0.98)" font-size="15.28" text-anchor="middle" textLength="10" lengthAdjust="spacing" style="font-kerning:none">2</text>
<text transform="translate(641.4 1576.4) scale(1 0.98)" font-size="15.28" text-anchor="middle" textLength="10" lengthAdjust="spacing" style="font-kerning:none">3</text>
<text transform="translate(354.75 1598.4) scale(1 1.05)" font-size="16.67" text-anchor="middle" textLength="80" lengthAdjust="spacing" style="font-kerning:none">PRS_cogP</text>
<text transform="translate(17.05 1261.7) rotate(-90)" font-size="16.67" text-anchor="middle" textLength="99" lengthAdjust="spacing" style="font-kerning:none">Full WAIS IQ</text>
<clipPath id="c7"><rect x="68.7" y="1808.9" width="572.7" height="585.95"/></clipPath>
<g clip-path="url(#c7)">
<g fill="#ffc400" stroke="#ffc400" fill-opacity="0.8" stroke-opacity="0.8" stroke-width="1.39"><circle cx="302.55" cy="1919.17" r="4.17"/><circle cx="364.12" cy="1926.49" r="4.17"/><circle cx="292.24" cy="1963.11" r="4.17"/><circle cx="261.03" cy="1970.44" r="4.17"/><circle cx="316.58" cy="1977.76" r="4.17"/><circle cx="303.41" cy="1999.73" r="4.17"/><circle cx="290.62" cy="2014.38" r="4.17"/><circle cx="386.83" cy="1816.62" r="4.17"/><circle cx="386.07" cy="1970.44" r="4.17"/><circle cx="258.45" cy="2021.71" r="4.17"/><circle cx="220.08" cy="2029.03" r="4.17"/><circle cx="302.27" cy="2087.63" r="4.17"/><circle cx="202.14" cy="2094.95" r="4.17"/><circle cx="208.44" cy="2094.95" r="4.17"/><circle cx="186.01" cy="2109.6" r="4.17"/><circle cx="149.64" cy="2124.25" r="4.17"/><circle cx="347.22" cy="2124.25" r="4.17"/><circle cx="356.39" cy="2124.25" r="4.17"/><circle cx="363.74" cy="2131.57" r="4.17"/><circle cx="212.07" cy="2138.9" r="4.17"/><circle cx="237.17" cy="2138.9" r="4.17"/><circle cx="348.75" cy="2138.9" r="4.17"/><circle cx="199.85" cy="2146.22" r="4.17"/><circle cx="227.91" cy="2146.22" r="4.17"/><circle cx="240.51" cy="2146.22" r="4.17"/><circle cx="281.36" cy="2146.22" r="4.17"/><circle cx="290.14" cy="2146.22" r="4.17"/><circle cx="318.59" cy="2146.22" r="4.17"/><circle cx="202.33" cy="2153.55" r="4.17"/><circle cx="111.46" cy="2168.19" r="4.17"/><circle cx="307.13" cy="2168.19" r="4.17"/><circle cx="358.49" cy="2168.19" r="4.17"/><circle cx="345.22" cy="2182.84" r="4.17"/><circle cx="349.13" cy="2182.84" r="4.17"/><circle cx="363.74" cy="2182.84" r="4.17"/><circle cx="315.06" cy="2036.36" r="4.17"/><circle cx="343.31" cy="2065.65" r="4.17"/><circle cx="265.42" cy="2087.63" r="4.17"/><circle cx="334.15" cy="2102.28" r="4.17"/><circle cx="303.41" cy="2116.92" r="4.17"/><circle cx="274.78" cy="2124.25" r="4.17"/><circle cx="251.39" cy="2131.57" r="4.17"/><circle cx="188.97" cy="2153.55" r="4.17"/><circle cx="342.16" cy="2160.87" r="4.17"/><circle cx="292.91" cy="2168.19" r="4.17"/><circle cx="128.55" cy="2175.52" r="4.17"/><circle cx="320.12" cy="2182.84" r="4.17"/><circle cx="408.22" cy="2043.68" r="4.17"/><circle cx="450.12" cy="2043.68" r="4.17"/><circle cx="422.82" cy="2058.33" r="4.17"/><circle cx="380.25" cy="2065.65" r="4.17"/><circle cx="447.16" cy="2102.28" r="4.17"/><circle cx="470.35" cy="2116.92" r="4.17"/><circle cx="391.7" cy="2124.25" r="4.17"/><circle cx="493.55" cy="2131.57" r="4.17"/><circle cx="623.93" cy="2153.55" r="4.17"/><circle cx="396" cy="2168.19" r="4.17"/><circle cx="381.97" cy="2175.52" r="4.17"/><circle cx="450.69" cy="2036.36" r="4.17"/><circle cx="388.93" cy="2087.63" r="4.17"/><circle cx="459.47" cy="2102.28" r="4.17"/><circle cx="417" cy="2116.92" r="4.17"/><circle cx="432.17" cy="2168.19" r="4.17"/><circle cx="223.23" cy="2197.49" r="4.17"/><circle cx="199.28" cy="2204.82" r="4.17"/><circle cx="334.53" cy="2204.82" r="4.17"/><circle cx="258.84" cy="2212.14" r="4.17"/><circle cx="332.62" cy="2219.47" r="4.17"/><circle cx="172.36" cy="2234.11" r="4.17"/><circle cx="255.3" cy="2248.76" r="4.17"/><circle cx="270.67" cy="2278.06" r="4.17"/><circle cx="311.24" cy="2307.36" r="4.17"/><circle cx="199.85" cy="2329.33" r="4.17"/><circle cx="226.86" cy="2336.66" r="4.17"/><circle cx="295.58" cy="2204.82" r="4.17"/><circle cx="223.62" cy="2234.11" r="4.17"/><circle cx="264.47" cy="2234.11" r="4.17"/><circle cx="266" cy="2241.44" r="4.17"/><circle cx="153.46" cy="2263.41" r="4.17"/><circle cx="197.27" cy="2270.74" r="4.17"/><circle cx="224" cy="2278.06" r="4.17"/><circle cx="119.38" cy="2285.38" r="4.17"/><circle cx="282.22" cy="2285.38" r="4.17"/><circle cx="148.97" cy="2314.68" r="4.17"/><circle cx="300.83" cy="2336.66" r="4.17"/><circle cx="363.45" cy="2204.82" r="4.17"/><circle cx="453.27" cy="2204.82" r="4.17"/><circle cx="391.89" cy="2234.11" r="4.17"/><circle cx="391.13" cy="2278.06" r="4.17"/><circle cx="381.97" cy="2204.82" r="4.17"/><circle cx="372.23" cy="2234.11" r="4.17"/><circle cx="238.31" cy="2307.36" r="4.17"/><circle cx="254.92" cy="2270.74" r="4.17"/><circle cx="461.95" cy="2219.47" r="4.17"/><circle cx="349.04" cy="2051" r="4.17"/><circle cx="91.42" cy="2072.98" r="4.17"/><circle cx="308.76" cy="2102.28" r="4.17"/><circle cx="131.03" cy="2138.9" r="4.17"/><circle cx="238.98" cy="2146.22" r="4.17"/><circle cx="301.6" cy="2146.22" r="4.17"/><circle cx="384.35" cy="2021.71" r="4.17"/><circle cx="404.87" cy="2124.25" r="4.17"/><circle cx="348.65" cy="1933.81" r="4.17"/></g>
<polygon points="68.7,2168.19 74.48,2167.38 80.27,2166.71 86.05,2165.96 91.84,2165.2 97.62,2164.36 103.41,2163.27 109.19,2162.6 114.98,2161.94 120.76,2161.12 126.55,2160.45 132.33,2159.79 138.12,2159 143.9,2158.35 149.69,2157.57 155.47,2156.8 161.26,2156.24 167.04,2155.49 172.83,2154.64 178.61,2153.71 184.4,2152.86 190.18,2151.97 195.97,2151.09 201.75,2150.24 207.54,2149.32 213.32,2148.36 219.11,2147.48 224.89,2146.2 230.68,2145.4 236.46,2144.51 242.25,2143.47 248.03,2142.3 253.82,2141.08 259.6,2140.3 265.38,2138.79 271.17,2137.62 276.95,2136.42 282.74,2134.32 288.52,2133.2 294.31,2131.04 300.09,2129.59 305.88,2127.95 311.66,2125.92 317.45,2123.96 323.23,2122 329.02,2120.14 334.8,2118.35 340.59,2116.48 346.37,2114.88 352.16,2112.8 357.94,2111.07 363.73,2108.21 369.51,2106.23 375.3,2104.24 381.08,2102.16 386.87,2099.88 392.65,2097.84 398.44,2095.26 404.22,2092.54 410.01,2090.86 415.79,2088.92 421.58,2086.54 427.36,2083.9 433.15,2081.37 438.93,2078.84 444.72,2076.32 450.5,2073.8 456.28,2071.28 462.07,2068.77 467.85,2066.57 473.64,2064.49 479.42,2062.41 485.21,2060.33 490.99,2058.04 496.78,2055.58 502.56,2053.12 508.35,2050.89 514.13,2048.6 519.92,2045.84 525.7,2043.36 531.49,2041.08 537.27,2038.8 543.06,2036.52 548.84,2034.06 554.63,2031.52 560.41,2029.08 566.2,2026.44 571.98,2023.89 577.77,2021.35 583.55,2018.73 589.34,2016.1 595.12,2013.62 600.91,2011.14 606.69,2008.6 612.48,2006.05 618.26,2003.51 624.05,2000.97 629.83,1998.43 635.62,1995.63 641.4,1993.14 641.4,2113.26 635.62,2114.05 629.83,2114.85 624.05,2115.61 618.26,2116.24 612.48,2116.87 606.69,2117.5 600.91,2118.13 595.12,2118.79 589.34,2119.61 583.55,2120.38 577.77,2120.96 571.98,2121.56 566.2,2122.2 560.41,2122.7 554.63,2123.28 548.84,2123.93 543.06,2124.58 537.27,2125.26 531.49,2126.09 525.7,2126.83 519.92,2127.5 514.13,2128.18 508.35,2128.85 502.56,2129.31 496.78,2130.21 490.99,2130.9 485.21,2131.81 479.42,2133.02 473.64,2134.05 467.85,2134.89 462.07,2135.91 456.28,2136.22 450.5,2136.52 444.72,2137.29 438.93,2138.19 433.15,2139.45 427.36,2140.71 421.58,2141.55 415.79,2142.35 410.01,2143.56 404.22,2144.91 398.44,2145.85 392.65,2146.87 386.87,2147.72 381.08,2148.65 375.3,2149.55 369.51,2150.71 363.73,2151.94 357.94,2153.28 352.16,2154.41 346.37,2155.19 340.59,2156.54 334.8,2158.02 329.02,2159.37 323.23,2160.45 317.45,2161.51 311.66,2162.82 305.88,2164.42 300.09,2165.73 294.31,2167.62 288.52,2169.04 282.74,2170.57 276.95,2172.13 271.17,2173.81 265.38,2175.62 259.6,2177.47 253.82,2179.22 248.03,2181.25 242.25,2183.31 236.46,2185.16 230.68,2187.13 224.89,2188.92 219.11,2190.91 213.32,2192.89 207.54,2195.06 201.75,2197.18 195.97,2199.25 190.18,2201.31 184.4,2203.47 178.61,2205.68 172.83,2207.81 167.04,2210.3 161.26,2212.4 155.47,2215 149.69,2217.44 143.9,2219.59 138.12,2221.64 132.33,2224.09 126.55,2226.37 120.76,2229.05 114.98,2231.49 109.19,2233.97 103.41,2236.44 97.62,2238.89 91.84,2241.34 86.05,2243.79 80.27,2246.23 74.48,2248.67 68.7,2251.11" fill="#ffc400" fill-opacity="0.15"/>
<line x1="68.7" y1="2208.67" x2="641.4" y2="2058.22" stroke="#ffc400" stroke-width="2.7" stroke-linecap="butt"/>
</g>
<clipPath id="c8"><rect x="66.7" y="1690" width="576.7" height="99.2"/></clipPath>
<g clip-path="url(#c8)">
<g fill="#ffc400" fill-opacity="0.5">
<rect x="92.29" y="1769.9" width="51.81" height="19.3"/>
<rect x="145.5" y="1762.2" width="51.81" height="27"/>
<rect x="198.69" y="1717.7" width="51.81" height="71.5"/>
<rect x="251.9" y="1693.2" width="51.81" height="96"/>
<rect x="305.09" y="1709.1" width="51.81" height="80.1"/>
<rect x="358.3" y="1713.3" width="51.81" height="75.9"/>
<rect x="411.5" y="1746" width="51.81" height="43.2"/>
<rect x="464.69" y="1781.3" width="51.81" height="7.9"/>
<rect x="571.1" y="1785.5" width="51.81" height="3.7"/>
</g>
<path d="M90.6 1777.9 L93.29 1777.08 L95.97 1776.28 L98.66 1775.5 L101.35 1774.73 L104.03 1773.98 L106.72 1773.23 L109.41 1772.49 L112.09 1771.75 L114.78 1771.01 L117.46 1770.26 L120.15 1769.5 L122.84 1768.74 L125.52 1767.95 L128.21 1767.15 L130.9 1766.33 L133.58 1765.48 L136.27 1764.6 L138.96 1763.69 L141.64 1762.75 L144.33 1761.76 L147.02 1760.74 L149.7 1759.67 L152.39 1758.56 L155.07 1757.41 L157.76 1756.23 L160.45 1755.02 L163.13 1753.78 L165.82 1752.51 L168.51 1751.22 L171.19 1749.9 L173.88 1748.57 L176.57 1747.23 L179.25 1745.87 L181.94 1744.5 L184.63 1743.13 L187.31 1741.75 L190 1740.37 L192.68 1738.99 L195.37 1737.62 L198.06 1736.25 L200.74 1734.88 L203.43 1733.53 L206.12 1732.19 L208.8 1730.87 L211.49 1729.57 L214.18 1728.29 L216.86 1727.03 L219.55 1725.8 L222.24 1724.6 L224.92 1723.42 L227.61 1722.28 L230.29 1721.17 L232.98 1720.09 L235.67 1719.05 L238.35 1718.03 L241.04 1717.04 L243.73 1716.08 L246.41 1715.15 L249.1 1714.25 L251.79 1713.38 L254.47 1712.54 L257.16 1711.72 L259.85 1710.93 L262.53 1710.17 L265.22 1709.44 L267.9 1708.74 L270.59 1708.06 L273.28 1707.4 L275.96 1706.78 L278.65 1706.18 L281.34 1705.6 L284.02 1705.05 L286.71 1704.54 L289.4 1704.06 L292.08 1703.63 L294.77 1703.24 L297.46 1702.9 L300.14 1702.62 L302.83 1702.4 L305.51 1702.24 L308.2 1702.13 L310.89 1702.07 L313.57 1702.07 L316.26 1702.11 L318.95 1702.21 L321.63 1702.35 L324.32 1702.54 L327.01 1702.78 L329.69 1703.06 L332.38 1703.38 L335.07 1703.74 L337.75 1704.14 L340.44 1704.58 L343.12 1705.07 L345.81 1705.61 L348.5 1706.2 L351.18 1706.86 L353.87 1707.58 L356.56 1708.37 L359.24 1709.25 L361.93 1710.2 L364.62 1711.24 L367.3 1712.34 L369.99 1713.49 L372.68 1714.69 L375.36 1715.91 L378.05 1717.15 L380.73 1718.4 L383.42 1719.65 L386.11 1720.91 L388.79 1722.18 L391.48 1723.45 L394.17 1724.73 L396.85 1726.02 L399.54 1727.31 L402.23 1728.62 L404.91 1729.95 L407.6 1731.28 L410.29 1732.63 L412.97 1734 L415.66 1735.37 L418.34 1736.77 L421.03 1738.17 L423.72 1739.58 L426.4 1740.99 L429.09 1742.41 L431.78 1743.84 L434.46 1745.26 L437.15 1746.69 L439.84 1748.11 L442.52 1749.52 L445.21 1750.93 L447.9 1752.33 L450.58 1753.72 L453.27 1755.1 L455.95 1756.46 L458.64 1757.81 L461.33 1759.14 L464.01 1760.45 L466.7 1761.74 L469.39 1763 L472.07 1764.25 L474.76 1765.46 L477.45 1766.66 L480.13 1767.83 L482.82 1768.97 L485.51 1770.08 L488.19 1771.17 L490.88 1772.23 L493.56 1773.26 L496.25 1774.26 L498.94 1775.23 L501.62 1776.16 L504.31 1777.07 L507 1777.94 L509.68 1778.78 L512.37 1779.59 L515.06 1780.36 L517.74 1781.09 L520.43 1781.79 L523.12 1782.45 L525.8 1783.07 L528.49 1783.65 L531.17 1784.2 L533.86 1784.7 L536.55 1785.16 L539.23 1785.58 L541.92 1785.96 L544.61 1786.3 L547.29 1786.59 L549.98 1786.85 L552.67 1787.07 L555.35 1787.26 L558.04 1787.42 L560.73 1787.54 L563.41 1787.64 L566.1 1787.72 L568.78 1787.77 L571.47 1787.79 L574.16 1787.8 L576.84 1787.79 L579.53 1787.77 L582.22 1787.74 L584.9 1787.69 L587.59 1787.63 L590.28 1787.57 L592.96 1787.5 L595.65 1787.43 L598.34 1787.36 L601.02 1787.29 L603.71 1787.23 L606.39 1787.17 L609.08 1787.12 L611.77 1787.08 L614.45 1787.05 L617.14 1787.04 L619.83 1787.04 L622.51 1787.06 L625.2 1787.1" fill="none" stroke="#ffc400" stroke-width="1.8" stroke-linejoin="round" stroke-linecap="butt"/>
</g>
<line x1="68.7" y1="1789.2" x2="640.8" y2="1789.2" stroke="#1c1c1c" stroke-width="2.2" stroke-linecap="square"/>
<clipPath id="c9"><rect x="661.4" y="1808.9" width="100" height="585.95"/></clipPath>
<g clip-path="url(#c9)">
<g fill="#ffc400" fill-opacity="0.5">
<rect x="661.4" y="2300.73" width="20.7" height="42.56"/>
<rect x="661.4" y="2256.78" width="28.9" height="42.56"/>
<rect x="661.4" y="2212.84" width="32" height="42.56"/>
<rect x="661.4" y="2168.89" width="50.7" height="42.56"/>
<rect x="661.4" y="2124.94" width="92.7" height="42.56"/>
<rect x="661.4" y="2081" width="69.3" height="42.56"/>
<rect x="661.4" y="2037.05" width="24.8" height="42.56"/>
<rect x="661.4" y="1993.1" width="24.8" height="42.56"/>
<rect x="661.4" y="1949.16" width="14" height="42.56"/>
<rect x="661.4" y="1905.21" width="10.1" height="42.56"/>
</g>
<path d="M662.91 2431.87 L662.98 2428.78 L663.05 2425.69 L663.12 2422.6 L663.2 2419.51 L663.29 2416.41 L663.38 2413.32 L663.5 2410.23 L663.63 2407.14 L663.78 2404.05 L663.95 2400.95 L664.14 2397.86 L664.37 2394.77 L664.67 2391.68 L665 2388.59 L665.36 2385.5 L665.76 2382.4 L666.2 2379.31 L666.67 2376.22 L667.18 2373.13 L667.72 2370.04 L668.31 2366.95 L668.93 2363.85 L669.58 2360.76 L670.27 2357.67 L670.99 2354.58 L671.73 2351.49 L672.51 2348.4 L673.31 2345.3 L674.13 2342.21 L674.96 2339.12 L675.82 2336.03 L676.68 2332.94 L677.56 2329.85 L678.45 2326.75 L679.34 2323.66 L680.23 2320.57 L681.12 2317.48 L682.01 2314.39 L682.9 2311.3 L683.79 2308.2 L684.64 2305.11 L685.47 2302.02 L686.29 2298.93 L687.11 2295.84 L687.93 2292.75 L688.74 2289.65 L689.55 2286.56 L690.36 2283.47 L691.17 2280.38 L691.98 2277.29 L692.79 2274.2 L693.61 2271.1 L694.44 2268.01 L695.28 2264.92 L696.13 2261.83 L697 2258.74 L697.89 2255.65 L698.79 2252.55 L699.72 2249.46 L700.68 2246.37 L701.66 2243.28 L702.67 2240.19 L703.71 2237.1 L704.78 2234 L705.88 2230.91 L707.02 2227.82 L708.19 2224.73 L709.38 2221.64 L710.61 2218.54 L711.87 2215.45 L713.15 2212.36 L714.46 2209.27 L715.79 2206.18 L717.14 2203.09 L718.49 2199.99 L719.85 2196.9 L721.2 2193.81 L722.55 2190.72 L723.88 2187.63 L725.18 2184.54 L726.44 2181.44 L727.65 2178.35 L728.8 2175.26 L729.89 2172.17 L730.89 2169.08 L731.8 2165.99 L732.6 2162.89 L733.3 2159.8 L733.87 2156.71 L734.31 2153.62 L734.61 2150.53 L734.76 2147.44 L734.77 2144.34 L734.63 2141.25 L734.33 2138.16 L733.88 2135.07 L733.29 2131.98 L732.55 2128.89 L731.67 2125.79 L730.67 2122.7 L729.54 2119.61 L728.3 2116.52 L726.96 2113.43 L725.54 2110.34 L724.04 2107.24 L722.49 2104.15 L720.88 2101.06 L719.25 2097.97 L717.59 2094.88 L715.92 2091.79 L714.26 2088.69 L712.61 2085.6 L710.98 2082.51 L709.38 2079.42 L707.82 2076.33 L706.31 2073.24 L704.84 2070.14 L703.42 2067.05 L702.05 2063.96 L700.73 2060.87 L699.47 2057.78 L698.26 2054.68 L697.1 2051.59 L695.98 2048.5 L694.92 2045.41 L693.89 2042.32 L692.91 2039.23 L691.96 2036.13 L691.04 2033.04 L690.16 2029.95 L689.31 2026.86 L688.49 2023.77 L687.69 2020.68 L686.92 2017.58 L686.17 2014.49 L685.44 2011.4 L684.74 2008.31 L684.06 2005.22 L683.4 2002.13 L682.77 1999.03 L682.15 1995.94 L681.56 1992.85 L680.98 1989.76 L680.43 1986.67 L679.89 1983.58 L679.37 1980.48 L678.87 1977.39 L678.38 1974.3 L677.91 1971.21 L677.45 1968.12 L676.99 1965.03 L676.55 1961.93 L676.11 1958.84 L675.68 1955.75 L675.24 1952.66 L674.82 1949.57 L674.39 1946.48 L673.96 1943.38 L673.53 1940.29 L673.09 1937.2 L672.66 1934.11 L672.22 1931.02 L671.79 1927.93 L671.35 1924.83 L670.91 1921.74 L670.47 1918.65 L670.04 1915.56 L669.61 1912.47 L669.19 1909.38 L668.77 1906.28 L668.37 1903.19 L667.97 1900.1 L667.6 1897.01 L667.23 1893.92 L666.89 1890.83 L666.57 1887.73 L666.26 1884.64 L665.98 1881.55 L665.72 1878.46 L665.48 1875.37 L665.26 1872.27 L665.07 1869.18 L664.9 1866.09 L664.75 1863 L664.63 1859.91 L664.52 1856.82 L664.43 1853.72 L664.35 1850.63 L664.29 1847.54 L664.24 1844.45 L664.2 1841.36 L664.17 1838.27 L664.15 1835.17 L664.12 1832.08 L664.11 1828.99 L664.09 1825.9 L664.07 1822.81 L664.04 1819.72 L664.02 1816.62" fill="none" stroke="#ffc400" stroke-width="1.8" stroke-linejoin="round"/>
</g>
<line x1="661.4" y1="1808.9" x2="661.4" y2="2394.85" stroke="#303030" stroke-width="1.74" stroke-linecap="square"/>
<line x1="68.7" y1="1808.9" x2="68.7" y2="2394.85" stroke="#303030" stroke-width="1.74" stroke-linecap="square"/><line x1="68.7" y1="2394.85" x2="640.8" y2="2394.85" stroke="#1c1c1c" stroke-width="2.2" stroke-linecap="square"/>
<text transform="translate(56 2400.55) scale(1 0.98)" font-size="15.28" text-anchor="end" textLength="20" lengthAdjust="spacing" style="font-kerning:none">70</text>
<text transform="translate(56 2327.31) scale(1 0.98)" font-size="15.28" text-anchor="end" textLength="20" lengthAdjust="spacing" style="font-kerning:none">80</text>
<text transform="translate(56 2254.06) scale(1 0.98)" font-size="15.28" text-anchor="end" textLength="20" lengthAdjust="spacing" style="font-kerning:none">90</text>
<text transform="translate(56 2180.82) scale(1 0.98)" font-size="15.28" text-anchor="end" textLength="30" lengthAdjust="spacing" style="font-kerning:none">100</text>
<text transform="translate(56 2107.57) scale(1 0.98)" font-size="15.28" text-anchor="end" textLength="30" lengthAdjust="spacing" style="font-kerning:none">110</text>
<text transform="translate(56 2034.33) scale(1 0.98)" font-size="15.28" text-anchor="end" textLength="30" lengthAdjust="spacing" style="font-kerning:none">120</text>
<text transform="translate(56 1961.09) scale(1 0.98)" font-size="15.28" text-anchor="end" textLength="30" lengthAdjust="spacing" style="font-kerning:none">130</text>
<text transform="translate(56 1887.84) scale(1 0.98)" font-size="15.28" text-anchor="end" textLength="30" lengthAdjust="spacing" style="font-kerning:none">140</text>
<text transform="translate(56 1814.6) scale(1 0.98)" font-size="15.28" text-anchor="end" textLength="30" lengthAdjust="spacing" style="font-kerning:none">150</text>
<text transform="translate(116.42 2418.35) scale(1 0.98)" font-size="15.28" text-anchor="middle" textLength="23" lengthAdjust="spacing" style="font-kerning:none">−2</text>
<text transform="translate(211.88 2418.35) scale(1 0.98)" font-size="15.28" text-anchor="middle" textLength="23" lengthAdjust="spacing" style="font-kerning:none">−1</text>
<text transform="translate(307.32 2418.35) scale(1 0.98)" font-size="15.28" text-anchor="middle" textLength="10" lengthAdjust="spacing" style="font-kerning:none">0</text>
<text transform="translate(402.77 2418.35) scale(1 0.98)" font-size="15.28" text-anchor="middle" textLength="10" lengthAdjust="spacing" style="font-kerning:none">1</text>
<text transform="translate(498.22 2418.35) scale(1 0.98)" font-size="15.28" text-anchor="middle" textLength="10" lengthAdjust="spacing" style="font-kerning:none">2</text>
<text transform="translate(593.67 2418.35) scale(1 0.98)" font-size="15.28" text-anchor="middle" textLength="10" lengthAdjust="spacing" style="font-kerning:none">3</text>
<text transform="translate(354.75 2441.15) scale(1 1.05)" font-size="16.67" text-anchor="middle" textLength="161" lengthAdjust="spacing" style="font-kerning:none">PRS_SCZ_resilience</text>
<text transform="translate(17.05 2103.28) rotate(-90)" font-size="16.67" text-anchor="middle" textLength="99" lengthAdjust="spacing" style="font-kerning:none">Full WAIS IQ</text>
<clipPath id="c10"><rect x="973.65" y="118.2" width="561.35" height="576.15"/></clipPath>
<g clip-path="url(#c10)">
<g fill="#4878d0" stroke="#4878d0" fill-opacity="0.8" stroke-opacity="0.8" stroke-width="1.39"><ellipse cx="984.98" cy="147.58" rx="4.3" ry="4.6"/><ellipse cx="1056.83" cy="244.52" rx="4.3" ry="4.6"/><ellipse cx="1239.63" cy="251.45" rx="4.3" ry="4.6"/><ellipse cx="1058.77" cy="286.07" rx="4.3" ry="4.6"/><ellipse cx="1067.75" cy="293" rx="4.3" ry="4.6"/><ellipse cx="1087.86" cy="293" rx="4.3" ry="4.6"/><ellipse cx="1118.68" cy="299.93" rx="4.3" ry="4.6"/><ellipse cx="1132.46" cy="320.7" rx="4.3" ry="4.6"/><ellipse cx="1173.39" cy="334.55" rx="4.3" ry="4.6"/><ellipse cx="1188.7" cy="341.47" rx="4.3" ry="4.6"/><ellipse cx="1102.66" cy="348.4" rx="4.3" ry="4.6"/><ellipse cx="1180.94" cy="362.25" rx="4.3" ry="4.6"/><ellipse cx="1241.67" cy="362.25" rx="4.3" ry="4.6"/><ellipse cx="1170.02" cy="376.1" rx="4.3" ry="4.6"/><ellipse cx="1216.97" cy="383.02" rx="4.3" ry="4.6"/><ellipse cx="1210.34" cy="403.8" rx="4.3" ry="4.6"/><ellipse cx="1127.46" cy="410.72" rx="4.3" ry="4.6"/><ellipse cx="1182.06" cy="410.72" rx="4.3" ry="4.6"/><ellipse cx="1241.06" cy="417.65" rx="4.3" ry="4.6"/><ellipse cx="1119.19" cy="424.57" rx="4.3" ry="4.6"/><ellipse cx="1171.55" cy="431.5" rx="4.3" ry="4.6"/><ellipse cx="1141.95" cy="438.43" rx="4.3" ry="4.6"/><ellipse cx="1224.32" cy="438.43" rx="4.3" ry="4.6"/><ellipse cx="1248.1" cy="438.43" rx="4.3" ry="4.6"/><ellipse cx="1258.31" cy="438.43" rx="4.3" ry="4.6"/><ellipse cx="1124.91" cy="445.35" rx="4.3" ry="4.6"/><ellipse cx="1108.48" cy="452.27" rx="4.3" ry="4.6"/><ellipse cx="1126.13" cy="452.27" rx="4.3" ry="4.6"/><ellipse cx="1212.27" cy="452.27" rx="4.3" ry="4.6"/><ellipse cx="1177.68" cy="459.2" rx="4.3" ry="4.6"/><ellipse cx="1182.06" cy="459.2" rx="4.3" ry="4.6"/><ellipse cx="1248.1" cy="459.2" rx="4.3" ry="4.6"/><ellipse cx="1055.4" cy="459.2" rx="4.3" ry="4.6"/><ellipse cx="1143.28" cy="466.12" rx="4.3" ry="4.6"/><ellipse cx="1057.85" cy="479.98" rx="4.3" ry="4.6"/><ellipse cx="1092.66" cy="479.98" rx="4.3" ry="4.6"/><ellipse cx="1099.19" cy="479.98" rx="4.3" ry="4.6"/><ellipse cx="1165.63" cy="479.98" rx="4.3" ry="4.6"/><ellipse cx="1123.79" cy="486.9" rx="4.3" ry="4.6"/><ellipse cx="1147.67" cy="493.82" rx="4.3" ry="4.6"/><ellipse cx="1203.29" cy="493.82" rx="4.3" ry="4.6"/><ellipse cx="1051.01" cy="507.67" rx="4.3" ry="4.6"/><ellipse cx="1102.76" cy="514.6" rx="4.3" ry="4.6"/><ellipse cx="1175.53" cy="514.6" rx="4.3" ry="4.6"/><ellipse cx="1184.31" cy="514.6" rx="4.3" ry="4.6"/><ellipse cx="1248.1" cy="514.6" rx="4.3" ry="4.6"/><ellipse cx="1372.62" cy="445.35" rx="4.3" ry="4.6"/><ellipse cx="1284.74" cy="459.2" rx="4.3" ry="4.6"/><ellipse cx="1332.71" cy="459.2" rx="4.3" ry="4.6"/><ellipse cx="1476.52" cy="466.12" rx="4.3" ry="4.6"/><ellipse cx="1196.97" cy="521.52" rx="4.3" ry="4.6"/><ellipse cx="1169.41" cy="528.45" rx="4.3" ry="4.6"/><ellipse cx="1111.95" cy="556.15" rx="4.3" ry="4.6"/><ellipse cx="1161.86" cy="583.85" rx="4.3" ry="4.6"/><ellipse cx="1190.84" cy="583.85" rx="4.3" ry="4.6"/><ellipse cx="1258.82" cy="611.55" rx="4.3" ry="4.6"/><ellipse cx="1064.38" cy="632.32" rx="4.3" ry="4.6"/><ellipse cx="1142.36" cy="639.25" rx="4.3" ry="4.6"/><ellipse cx="1278.62" cy="542.3" rx="4.3" ry="4.6"/><ellipse cx="1349.65" cy="542.3" rx="4.3" ry="4.6"/><ellipse cx="1204.52" cy="493.82" rx="4.3" ry="4.6"/></g>
<polygon points="984.98,324.16 989.94,326.86 994.91,329.56 999.87,332.26 1004.84,334.96 1009.8,337.66 1014.77,340.41 1019.73,343.22 1024.7,345.94 1029.66,348.66 1034.63,351.37 1039.59,354.05 1044.56,356.71 1049.52,359.51 1054.49,362.26 1059.45,364.98 1064.42,367.56 1069.38,370.09 1074.35,372.81 1079.31,375.62 1084.28,378.6 1089.24,381.35 1094.21,384.27 1099.17,387.26 1104.14,390.36 1109.1,392.72 1114.07,395.38 1119.04,397.76 1124,400.45 1128.97,403.16 1133.93,405.95 1138.9,408.57 1143.86,410.81 1148.83,412.69 1153.79,414.52 1158.76,416.38 1163.72,418.34 1168.69,420.55 1173.65,422.78 1178.62,424.64 1183.58,426.47 1188.55,428.28 1193.51,429.55 1198.48,430.95 1203.44,432.4 1208.41,433.35 1213.37,434.4 1218.34,435.4 1223.3,436.14 1228.27,437.31 1233.23,438.33 1238.2,438.96 1243.16,438.84 1248.13,439.3 1253.09,440.2 1258.06,441.1 1263.02,441.59 1267.99,442.18 1272.95,442.18 1277.92,442.48 1282.88,443.06 1287.85,442.91 1292.81,443.72 1297.78,443.58 1302.74,444.41 1307.71,444.12 1312.67,444.59 1317.64,444.64 1322.6,444.62 1327.57,444.6 1332.53,444.58 1337.5,444.92 1342.46,444.84 1347.43,444.64 1352.39,444.43 1357.36,444.39 1362.32,444.34 1367.29,444.3 1372.25,444.25 1377.22,444.2 1382.18,444.13 1387.15,444.05 1392.11,443.96 1397.08,443.88 1402.04,443.85 1407.01,443.96 1411.97,443.91 1416.94,443.86 1421.9,443.81 1426.87,443.76 1431.83,443.71 1436.8,443.66 1441.76,443.6 1446.73,443.55 1451.69,443.49 1456.66,443.44 1461.62,443.39 1466.59,443.34 1471.55,443.28 1476.52,443.27 1476.52,616.54 1471.55,613.9 1466.59,611.27 1461.62,608.63 1456.66,605.98 1451.69,603.33 1446.73,600.67 1441.76,598.01 1436.8,595.35 1431.83,592.68 1426.87,589.97 1421.9,587.24 1416.94,584.66 1411.97,581.98 1407.01,579.29 1402.04,576.6 1397.08,573.9 1392.11,571.2 1387.15,568.49 1382.18,565.78 1377.22,563.07 1372.25,560.35 1367.29,557.62 1362.32,554.89 1357.36,552.14 1352.39,549.35 1347.43,546.55 1342.46,543.74 1337.5,540.93 1332.53,538.11 1327.57,535.4 1322.6,532.62 1317.64,530.05 1312.67,527.14 1307.71,524.21 1302.74,521.28 1297.78,518.35 1292.81,515.41 1287.85,512.55 1282.88,509.67 1277.92,506.83 1272.95,503.97 1267.99,501.09 1263.02,499.04 1258.06,497.3 1253.09,494.57 1248.13,491.93 1243.16,489.27 1238.2,486.31 1233.23,483.99 1228.27,481.72 1223.3,479.39 1218.34,477.16 1213.37,475.22 1208.41,472.91 1203.44,470.9 1198.48,469.47 1193.51,468.24 1188.55,467.44 1183.58,466.51 1178.62,465.68 1173.65,464.88 1168.69,464.59 1163.72,463.91 1158.76,463.25 1153.79,463.31 1148.83,463.68 1143.86,463.07 1138.9,462.66 1133.93,463.03 1128.97,462.87 1124,462.51 1119.04,462.48 1114.07,462.21 1109.1,461.94 1104.14,461.68 1099.17,461.41 1094.21,461.14 1089.24,460.9 1084.28,461.24 1079.31,460.99 1074.35,461.04 1069.38,461.39 1064.42,461.29 1059.45,461.17 1054.49,460.92 1049.52,460.85 1044.56,461.01 1039.59,460.88 1034.63,461.6 1029.66,462.02 1024.7,462.33 1019.73,462.65 1014.77,462.97 1009.8,463.29 1004.84,463.6 999.87,463.92 994.91,464.24 989.94,464.29 984.98,464.26" fill="#4878d0" fill-opacity="0.15"/>
<g fill="#d65f5f" stroke="#d65f5f" fill-opacity="0.8" stroke-opacity="0.8" stroke-width="1.39"><ellipse cx="1103.78" cy="355.32" rx="4.3" ry="4.6"/><ellipse cx="1129.5" cy="355.32" rx="4.3" ry="4.6"/><ellipse cx="1138.07" cy="383.02" rx="4.3" ry="4.6"/><ellipse cx="1010.7" cy="403.8" rx="4.3" ry="4.6"/><ellipse cx="1072.04" cy="403.8" rx="4.3" ry="4.6"/><ellipse cx="999.78" cy="417.65" rx="4.3" ry="4.6"/><ellipse cx="1038.46" cy="431.5" rx="4.3" ry="4.6"/><ellipse cx="1078.67" cy="431.5" rx="4.3" ry="4.6"/><ellipse cx="1042.65" cy="466.12" rx="4.3" ry="4.6"/><ellipse cx="1188.9" cy="486.9" rx="4.3" ry="4.6"/><ellipse cx="1218.3" cy="493.82" rx="4.3" ry="4.6"/><ellipse cx="1156.85" cy="514.6" rx="4.3" ry="4.6"/><ellipse cx="1528.88" cy="417.65" rx="4.3" ry="4.6"/><ellipse cx="1448.76" cy="438.43" rx="4.3" ry="4.6"/><ellipse cx="1321.58" cy="445.35" rx="4.3" ry="4.6"/><ellipse cx="1379.25" cy="473.05" rx="4.3" ry="4.6"/><ellipse cx="1330.36" cy="479.98" rx="4.3" ry="4.6"/><ellipse cx="1341.08" cy="479.98" rx="4.3" ry="4.6"/><ellipse cx="1328.83" cy="514.6" rx="4.3" ry="4.6"/><ellipse cx="1159.51" cy="542.3" rx="4.3" ry="4.6"/><ellipse cx="1164.51" cy="549.23" rx="4.3" ry="4.6"/><ellipse cx="1200.44" cy="542.3" rx="4.3" ry="4.6"/><ellipse cx="1222.89" cy="542.3" rx="4.3" ry="4.6"/><ellipse cx="1065.92" cy="576.92" rx="4.3" ry="4.6"/><ellipse cx="1081.74" cy="583.85" rx="4.3" ry="4.6"/><ellipse cx="1065" cy="590.77" rx="4.3" ry="4.6"/><ellipse cx="1243.4" cy="570" rx="4.3" ry="4.6"/><ellipse cx="1250.04" cy="590.77" rx="4.3" ry="4.6"/><ellipse cx="1189.72" cy="618.48" rx="4.3" ry="4.6"/><ellipse cx="1332.81" cy="639.25" rx="4.3" ry="4.6"/></g>
<polygon points="999.78,436.14 1005.12,437.87 1010.47,438.99 1015.81,440.17 1021.16,440.92 1026.5,441.92 1031.84,443.24 1037.19,444.55 1042.53,445.88 1047.88,447.19 1053.22,448.52 1058.57,449.6 1063.91,450.67 1069.26,452.05 1074.6,453.33 1079.94,454.43 1085.29,455.13 1090.63,456.1 1095.98,457.06 1101.32,457.59 1106.67,458.18 1112.01,459.41 1117.36,460.56 1122.7,461.23 1128.04,462.25 1133.39,462.67 1138.73,463.75 1144.08,464.1 1149.42,464.57 1154.77,465.34 1160.11,465.89 1165.46,466.58 1170.8,467.25 1176.14,467.92 1181.49,468.63 1186.83,469.26 1192.18,469.45 1197.52,469.7 1202.87,470.18 1208.21,470.42 1213.56,470.84 1218.9,471.33 1224.24,471.71 1229.59,472.03 1234.93,472.47 1240.28,472.61 1245.62,472.71 1250.97,472.79 1256.31,473.04 1261.66,472.97 1267,472.96 1272.34,473.19 1277.69,473.65 1283.03,474.01 1288.38,474.45 1293.72,474.49 1299.07,474.42 1304.41,474.54 1309.75,474.51 1315.1,474.97 1320.44,475.21 1325.79,474.41 1331.13,474.27 1336.48,473.76 1341.82,473.54 1347.17,473.71 1352.51,473.13 1357.85,473.04 1363.2,473.08 1368.54,472.93 1373.89,472.79 1379.23,472.87 1384.58,472.29 1389.92,471.68 1395.27,471.61 1400.61,471.08 1405.95,471.02 1411.3,470.94 1416.64,470.49 1421.99,469.96 1427.33,469.44 1432.68,469.27 1438.02,468.42 1443.37,467.84 1448.71,467.09 1454.05,466.37 1459.4,465.98 1464.74,464.87 1470.09,464.17 1475.43,463.72 1480.78,463.23 1486.12,462.25 1491.47,461.45 1496.81,461.16 1502.15,460.87 1507.5,460.55 1512.84,459.73 1518.19,459.18 1523.53,458.33 1528.88,457.54 1528.88,608.85 1523.53,607.39 1518.19,605.93 1512.84,604.46 1507.5,602.99 1502.15,601.52 1496.81,600.05 1491.47,598.57 1486.12,597.22 1480.78,595.97 1475.43,594.71 1470.09,593.45 1464.74,592.19 1459.4,590.93 1454.05,589.66 1448.71,588.39 1443.37,587.12 1438.02,585.76 1432.68,584.08 1427.33,582.4 1421.99,580.71 1416.64,579.02 1411.3,577.32 1405.95,575.61 1400.61,573.9 1395.27,572.19 1389.92,570.64 1384.58,569.39 1379.23,568.14 1373.89,566.57 1368.54,564.74 1363.2,562.9 1357.85,561.05 1352.51,559.58 1347.17,558.12 1341.82,556.66 1336.48,555.19 1331.13,553.73 1325.79,552.26 1320.44,550.82 1315.1,549.59 1309.75,548.5 1304.41,546.98 1299.07,545.68 1293.72,544.36 1288.38,543.13 1283.03,541.72 1277.69,541.23 1272.34,539.68 1267,538.53 1261.66,537.77 1256.31,537.23 1250.97,536.57 1245.62,536.27 1240.28,534.6 1234.93,534.15 1229.59,532.72 1224.24,532.16 1218.9,531.49 1213.56,531.02 1208.21,531.03 1202.87,530.7 1197.52,530.07 1192.18,529.79 1186.83,530.17 1181.49,530.54 1176.14,530.94 1170.8,530.3 1165.46,530.11 1160.11,530 1154.77,530.05 1149.42,530.65 1144.08,530.94 1138.73,531.08 1133.39,531.54 1128.04,532.05 1122.7,532.36 1117.36,533.36 1112.01,533.96 1106.67,534.63 1101.32,535.57 1095.98,536.4 1090.63,537.13 1085.29,537.83 1079.94,538.34 1074.6,538.77 1069.26,539.2 1063.91,539.69 1058.57,540.45 1053.22,541.21 1047.88,541.98 1042.53,542.74 1037.19,543.51 1031.84,544.28 1026.5,545.1 1021.16,546 1015.81,546.91 1010.47,547.82 1005.12,548.73 999.78,549.64" fill="#d65f5f" fill-opacity="0.15"/>
<line x1="984.98" y1="392.19" x2="1476.52" y2="525.46" stroke="#4878d0" stroke-width="2.7" stroke-linecap="butt"/>
<line x1="999.78" y1="490.25" x2="1528.88" y2="514.39" stroke="#d65f5f" stroke-width="2.7" stroke-linecap="butt"/>
</g>
<path d="M973.65 118.2V694.35H1534.9" fill="none" stroke="#484848" stroke-width="1.74" stroke-linecap="square" stroke-linejoin="round"/>
<text transform="translate(959.35 701) scale(1 1.07)" font-size="15.28" text-anchor="end" textLength="20" lengthAdjust="spacing" style="font-kerning:none">70</text>
<text transform="translate(959.35 631.75) scale(1 1.07)" font-size="15.28" text-anchor="end" textLength="20" lengthAdjust="spacing" style="font-kerning:none">80</text>
<text transform="translate(959.35 562.5) scale(1 1.07)" font-size="15.28" text-anchor="end" textLength="20" lengthAdjust="spacing" style="font-kerning:none">90</text>
<text transform="translate(959.35 493.25) scale(1 1.07)" font-size="15.28" text-anchor="end" textLength="30" lengthAdjust="spacing" style="font-kerning:none">100</text>
<text transform="translate(959.35 424) scale(1 1.07)" font-size="15.28" text-anchor="end" textLength="30" lengthAdjust="spacing" style="font-kerning:none">110</text>
<text transform="translate(959.35 354.75) scale(1 1.07)" font-size="15.28" text-anchor="end" textLength="30" lengthAdjust="spacing" style="font-kerning:none">120</text>
<text transform="translate(959.35 285.5) scale(1 1.07)" font-size="15.28" text-anchor="end" textLength="30" lengthAdjust="spacing" style="font-kerning:none">130</text>
<text transform="translate(959.35 216.25) scale(1 1.07)" font-size="15.28" text-anchor="end" textLength="30" lengthAdjust="spacing" style="font-kerning:none">140</text>
<text transform="translate(959.35 147) scale(1 1.07)" font-size="15.28" text-anchor="end" textLength="30" lengthAdjust="spacing" style="font-kerning:none">150</text>
<text transform="translate(973.65 721.7) scale(1 1.07)" font-size="15.28" text-anchor="middle" textLength="23" lengthAdjust="spacing" style="font-kerning:none">−2</text>
<text transform="translate(1075.71 721.7) scale(1 1.07)" font-size="15.28" text-anchor="middle" textLength="23" lengthAdjust="spacing" style="font-kerning:none">−1</text>
<text transform="translate(1177.78 721.7) scale(1 1.07)" font-size="15.28" text-anchor="middle" textLength="10" lengthAdjust="spacing" style="font-kerning:none">0</text>
<text transform="translate(1279.84 721.7) scale(1 1.07)" font-size="15.28" text-anchor="middle" textLength="10" lengthAdjust="spacing" style="font-kerning:none">1</text>
<text transform="translate(1381.9 721.7) scale(1 1.07)" font-size="15.28" text-anchor="middle" textLength="10" lengthAdjust="spacing" style="font-kerning:none">2</text>
<text transform="translate(1483.97 721.7) scale(1 1.07)" font-size="15.28" text-anchor="middle" textLength="10" lengthAdjust="spacing" style="font-kerning:none">3</text>
<text transform="translate(1254.28 745.75) scale(1 1.07)" font-size="16.67" text-anchor="middle" textLength="87" lengthAdjust="spacing" style="font-kerning:none">PRS_SCZ2</text>
<text transform="translate(916.9 407.08) rotate(-90) scale(1 1.07)" font-size="16.67" text-anchor="middle" textLength="103.6" lengthAdjust="spacing" style="font-kerning:none">Full WAIS IQ</text>
<text transform="translate(1550.3 415.5) scale(1 1.07)" font-size="16.67" text-anchor="start" textLength="96.4" lengthAdjust="spacing" style="font-kerning:none">Conversion</text>
<g fill="#4878d0" stroke="#4878d0" fill-opacity="0.8" stroke-opacity="0.8" stroke-width="1.39"><ellipse cx="1561.4" cy="435.1" rx="4.5" ry="4.8"/></g>
<text transform="translate(1589.2 439.5) scale(1 1.07)" font-size="15.28" text-anchor="start" textLength="62.1" lengthAdjust="spacing" style="font-kerning:none">UHR-NC</text>
<g fill="#d65f5f" stroke="#d65f5f" fill-opacity="0.8" stroke-opacity="0.8" stroke-width="1.39"><ellipse cx="1561.4" cy="459.3" rx="4.5" ry="4.8"/></g>
<text transform="translate(1589.2 462.9) scale(1 1.07)" font-size="15.28" text-anchor="start" textLength="51" lengthAdjust="spacing" style="font-kerning:none">UHR-C</text>
<clipPath id="c11"><rect x="973.65" y="976.9" width="562.25" height="576.35"/></clipPath>
<g clip-path="url(#c11)">
<g fill="#4878d0" stroke="#4878d0" fill-opacity="0.8" stroke-opacity="0.8" stroke-width="1.39"><ellipse cx="1219.07" cy="1103.42" rx="4.3" ry="4.6"/><ellipse cx="1203.24" cy="1144.97" rx="4.3" ry="4.6"/><ellipse cx="1210.92" cy="1151.9" rx="4.3" ry="4.6"/><ellipse cx="1252.24" cy="1158.83" rx="4.3" ry="4.6"/><ellipse cx="1307.72" cy="1006.48" rx="4.3" ry="4.6"/><ellipse cx="1531.4" cy="1110.35" rx="4.3" ry="4.6"/><ellipse cx="1300.69" cy="1151.9" rx="4.3" ry="4.6"/><ellipse cx="1425.89" cy="1179.6" rx="4.3" ry="4.6"/><ellipse cx="1079.07" cy="1221.15" rx="4.3" ry="4.6"/><ellipse cx="1213.64" cy="1235" rx="4.3" ry="4.6"/><ellipse cx="1195.08" cy="1269.62" rx="4.3" ry="4.6"/><ellipse cx="1235" cy="1269.62" rx="4.3" ry="4.6"/><ellipse cx="1228.72" cy="1283.47" rx="4.3" ry="4.6"/><ellipse cx="1235.94" cy="1290.4" rx="4.3" ry="4.6"/><ellipse cx="1233.88" cy="1297.33" rx="4.3" ry="4.6"/><ellipse cx="1091.91" cy="1297.33" rx="4.3" ry="4.6"/><ellipse cx="1136.8" cy="1297.33" rx="4.3" ry="4.6"/><ellipse cx="1207.73" cy="1318.1" rx="4.3" ry="4.6"/><ellipse cx="1226.85" cy="1318.1" rx="4.3" ry="4.6"/><ellipse cx="1182.62" cy="1338.88" rx="4.3" ry="4.6"/><ellipse cx="1199.67" cy="1338.88" rx="4.3" ry="4.6"/><ellipse cx="1202.58" cy="1338.88" rx="4.3" ry="4.6"/><ellipse cx="1212.89" cy="1338.88" rx="4.3" ry="4.6"/><ellipse cx="1212.33" cy="1345.8" rx="4.3" ry="4.6"/><ellipse cx="1202.11" cy="1352.72" rx="4.3" ry="4.6"/><ellipse cx="1320.75" cy="1193.45" rx="4.3" ry="4.6"/><ellipse cx="1311.19" cy="1200.38" rx="4.3" ry="4.6"/><ellipse cx="1268.36" cy="1207.3" rx="4.3" ry="4.6"/><ellipse cx="1290.76" cy="1221.15" rx="4.3" ry="4.6"/><ellipse cx="1337.24" cy="1241.92" rx="4.3" ry="4.6"/><ellipse cx="1267.05" cy="1262.7" rx="4.3" ry="4.6"/><ellipse cx="1337.24" cy="1276.55" rx="4.3" ry="4.6"/><ellipse cx="1357.1" cy="1297.33" rx="4.3" ry="4.6"/><ellipse cx="1270.33" cy="1311.17" rx="4.3" ry="4.6"/><ellipse cx="1311.19" cy="1311.17" rx="4.3" ry="4.6"/><ellipse cx="1336.58" cy="1304.25" rx="4.3" ry="4.6"/><ellipse cx="1343.52" cy="1304.25" rx="4.3" ry="4.6"/><ellipse cx="1343.52" cy="1311.17" rx="4.3" ry="4.6"/><ellipse cx="1342.95" cy="1318.1" rx="4.3" ry="4.6"/><ellipse cx="1349.05" cy="1318.1" rx="4.3" ry="4.6"/><ellipse cx="1345.2" cy="1325.02" rx="4.3" ry="4.6"/><ellipse cx="1327.02" cy="1318.1" rx="4.3" ry="4.6"/><ellipse cx="1317.47" cy="1325.02" rx="4.3" ry="4.6"/><ellipse cx="1452.87" cy="1318.1" rx="4.3" ry="4.6"/><ellipse cx="1320.75" cy="1352.72" rx="4.3" ry="4.6"/><ellipse cx="1363.57" cy="1352.72" rx="4.3" ry="4.6"/><ellipse cx="1212.89" cy="1366.58" rx="4.3" ry="4.6"/><ellipse cx="1193.21" cy="1373.5" rx="4.3" ry="4.6"/><ellipse cx="1193.21" cy="1380.42" rx="4.3" ry="4.6"/><ellipse cx="1099.31" cy="1373.5" rx="4.3" ry="4.6"/><ellipse cx="1031.66" cy="1401.2" rx="4.3" ry="4.6"/><ellipse cx="1188.43" cy="1401.2" rx="4.3" ry="4.6"/><ellipse cx="1088.07" cy="1442.75" rx="4.3" ry="4.6"/><ellipse cx="1114.21" cy="1470.45" rx="4.3" ry="4.6"/><ellipse cx="1181.87" cy="1498.15" rx="4.3" ry="4.6"/><ellipse cx="1329.37" cy="1373.5" rx="4.3" ry="4.6"/><ellipse cx="1443.88" cy="1373.5" rx="4.3" ry="4.6"/><ellipse cx="1274.73" cy="1387.35" rx="4.3" ry="4.6"/><ellipse cx="1300.69" cy="1415.05" rx="4.3" ry="4.6"/><ellipse cx="1268.36" cy="1442.75" rx="4.3" ry="4.6"/><ellipse cx="1286.54" cy="1491.22" rx="4.3" ry="4.6"/></g>
<polygon points="1031.66,1300.37 1036.7,1300.19 1041.75,1300.01 1046.8,1299.69 1051.85,1299.47 1056.9,1299.41 1061.94,1299.29 1066.99,1299.11 1072.04,1298.94 1077.09,1298.56 1082.13,1297.94 1087.18,1297.52 1092.23,1297.48 1097.28,1297.45 1102.33,1297.42 1107.37,1296.63 1112.42,1295.83 1117.47,1295.15 1122.52,1294.82 1127.57,1293.89 1132.61,1293.01 1137.66,1293.31 1142.71,1292.94 1147.76,1292.67 1152.81,1292.61 1157.85,1292.56 1162.9,1292.34 1167.95,1292.03 1173,1291.72 1178.05,1291.29 1183.09,1291.12 1188.14,1290.72 1193.19,1290.51 1198.24,1290.05 1203.29,1289.16 1208.33,1288.7 1213.38,1288.52 1218.43,1287.67 1223.48,1287.27 1228.53,1286.07 1233.57,1284.86 1238.62,1284.33 1243.67,1283.36 1248.72,1281.34 1253.77,1280.33 1258.81,1278.98 1263.86,1277.63 1268.91,1276.27 1273.96,1275.01 1279,1273.6 1284.05,1271.45 1289.1,1269.7 1294.15,1267.86 1299.2,1266.15 1304.24,1264.03 1309.29,1261.73 1314.34,1259.47 1319.39,1257.93 1324.44,1255.32 1329.48,1252.68 1334.53,1250.29 1339.58,1248.11 1344.63,1246.07 1349.68,1244.12 1354.72,1242.01 1359.77,1239.88 1364.82,1237.7 1369.87,1235.72 1374.92,1233.15 1379.96,1230.85 1385.01,1229.06 1390.06,1227.04 1395.11,1224.45 1400.16,1222.27 1405.2,1220.31 1410.25,1218.35 1415.3,1216.18 1420.35,1213.96 1425.4,1211.12 1430.44,1208.15 1435.49,1205.45 1440.54,1203.04 1445.59,1200.98 1450.63,1198.26 1455.68,1196.15 1460.73,1194.13 1465.78,1192.12 1470.83,1189.72 1475.87,1187.59 1480.92,1185.47 1485.97,1183.35 1491.02,1181.14 1496.07,1178.49 1501.11,1175.84 1506.16,1173.19 1511.21,1170.54 1516.26,1167.88 1521.31,1165.24 1526.35,1162.59 1531.4,1160.21 1531.4,1300.37 1526.35,1300.32 1521.31,1300.66 1516.26,1301.16 1511.21,1301.66 1506.16,1302.16 1501.11,1302.66 1496.07,1302.6 1491.02,1302.76 1485.97,1302.47 1480.92,1302.43 1475.87,1302.28 1470.83,1302.14 1465.78,1302 1460.73,1301.85 1455.68,1302.13 1450.63,1302.64 1445.59,1303.15 1440.54,1303.37 1435.49,1303.89 1430.44,1304.37 1425.4,1304.48 1420.35,1305.25 1415.3,1306.02 1410.25,1306.38 1405.2,1305.73 1400.16,1306.6 1395.11,1307.47 1390.06,1308.34 1385.01,1308.04 1379.96,1308.03 1374.92,1308.5 1369.87,1308.91 1364.82,1309.32 1359.77,1310.11 1354.72,1309.84 1349.68,1309.59 1344.63,1310.34 1339.58,1310.96 1334.53,1311.75 1329.48,1312.49 1324.44,1312.41 1319.39,1312.82 1314.34,1313.97 1309.29,1315.11 1304.24,1315.22 1299.2,1316.24 1294.15,1317.52 1289.1,1318.4 1284.05,1319.38 1279,1320.01 1273.96,1321.09 1268.91,1322.13 1263.86,1323.43 1258.81,1325.05 1253.77,1326.16 1248.72,1327.86 1243.67,1329.31 1238.62,1330.7 1233.57,1332.31 1228.53,1334.13 1223.48,1336.04 1218.43,1338.03 1213.38,1339.87 1208.33,1341.96 1203.29,1343.93 1198.24,1345.66 1193.19,1347.59 1188.14,1349.73 1183.09,1351.79 1178.05,1353.75 1173,1355.96 1167.95,1358.79 1162.9,1361.51 1157.85,1363.71 1152.81,1366.12 1147.76,1368.02 1142.71,1370.24 1137.66,1372.2 1132.61,1374.16 1127.57,1376.12 1122.52,1378.3 1117.47,1380.75 1112.42,1383.2 1107.37,1385.64 1102.33,1388.09 1097.28,1390.62 1092.23,1392.97 1087.18,1395.41 1082.13,1397.85 1077.09,1400.41 1072.04,1403.02 1066.99,1405.48 1061.94,1407.79 1056.9,1410.08 1051.85,1412.43 1046.8,1414.67 1041.75,1416.97 1036.7,1419.26 1031.66,1421.56" fill="#4878d0" fill-opacity="0.15"/>
<g fill="#d65f5f" stroke="#d65f5f" fill-opacity="0.8" stroke-opacity="0.8" stroke-width="1.39"><ellipse cx="1145.42" cy="1241.92" rx="4.3" ry="4.6"/><ellipse cx="1209.23" cy="1262.7" rx="4.3" ry="4.6"/><ellipse cx="1240.72" cy="1262.7" rx="4.3" ry="4.6"/><ellipse cx="1212.89" cy="1290.4" rx="4.3" ry="4.6"/><ellipse cx="1064.73" cy="1297.33" rx="4.3" ry="4.6"/><ellipse cx="1203.7" cy="1331.95" rx="4.3" ry="4.6"/><ellipse cx="1165.1" cy="1352.72" rx="4.3" ry="4.6"/><ellipse cx="1318.68" cy="1214.22" rx="4.3" ry="4.6"/><ellipse cx="1409.67" cy="1214.22" rx="4.3" ry="4.6"/><ellipse cx="1273.52" cy="1276.55" rx="4.3" ry="4.6"/><ellipse cx="1276.98" cy="1290.4" rx="4.3" ry="4.6"/><ellipse cx="1352.89" cy="1304.25" rx="4.3" ry="4.6"/><ellipse cx="1273.52" cy="1325.02" rx="4.3" ry="4.6"/><ellipse cx="1335.65" cy="1338.88" rx="4.3" ry="4.6"/><ellipse cx="1418.01" cy="1338.88" rx="4.3" ry="4.6"/><ellipse cx="1391.68" cy="1345.8" rx="4.3" ry="4.6"/><ellipse cx="1476.11" cy="1276.55" rx="4.3" ry="4.6"/><ellipse cx="1102.22" cy="1373.5" rx="4.3" ry="4.6"/><ellipse cx="1213.26" cy="1373.5" rx="4.3" ry="4.6"/><ellipse cx="1067.36" cy="1401.2" rx="4.3" ry="4.6"/><ellipse cx="1138.11" cy="1401.2" rx="4.3" ry="4.6"/><ellipse cx="1197.33" cy="1428.9" rx="4.3" ry="4.6"/><ellipse cx="1196.96" cy="1442.75" rx="4.3" ry="4.6"/><ellipse cx="1178.22" cy="1449.67" rx="4.3" ry="4.6"/><ellipse cx="1103.15" cy="1477.38" rx="4.3" ry="4.6"/><ellipse cx="1221.6" cy="1498.15" rx="4.3" ry="4.6"/><ellipse cx="1281.95" cy="1401.2" rx="4.3" ry="4.6"/><ellipse cx="1290.76" cy="1408.12" rx="4.3" ry="4.6"/><ellipse cx="1264.71" cy="1435.83" rx="4.3" ry="4.6"/><ellipse cx="1284.29" cy="1449.67" rx="4.3" ry="4.6"/></g>
<polygon points="1064.73,1356.19 1068.89,1355.65 1073.05,1355.11 1077.2,1354.56 1081.36,1354.02 1085.51,1353.47 1089.67,1353.15 1093.82,1352.91 1097.98,1352.44 1102.13,1351.84 1106.29,1351.24 1110.44,1350.72 1114.6,1350.26 1118.75,1349.8 1122.91,1349.2 1127.06,1348.78 1131.22,1348.42 1135.38,1348.25 1139.53,1347.91 1143.69,1347.6 1147.84,1347.2 1152,1346.67 1156.15,1345.76 1160.31,1345.14 1164.46,1344.65 1168.62,1344.18 1172.77,1343.63 1176.93,1342.94 1181.08,1342.37 1185.24,1341.38 1189.39,1340.48 1193.55,1339.35 1197.71,1338.22 1201.86,1337.63 1206.02,1337.03 1210.17,1336.46 1214.33,1335.87 1218.48,1334.89 1222.64,1333.96 1226.79,1333.32 1230.95,1332.77 1235.1,1332.03 1239.26,1331.09 1243.41,1330.13 1247.57,1328.69 1251.73,1327.95 1255.88,1326.86 1260.04,1325.07 1264.19,1323.43 1268.35,1322.05 1272.5,1320.72 1276.66,1319.49 1280.81,1318.27 1284.97,1317.11 1289.12,1315.83 1293.28,1314.53 1297.43,1313.03 1301.59,1311.5 1305.74,1309.98 1309.9,1308.45 1314.06,1307.05 1318.21,1305.43 1322.37,1304.17 1326.52,1302.91 1330.68,1301.5 1334.83,1300.1 1338.99,1298.64 1343.14,1297.08 1347.3,1295.16 1351.45,1293.92 1355.61,1291.81 1359.76,1290.16 1363.92,1288.48 1368.08,1286.52 1372.23,1284.47 1376.39,1282.45 1380.54,1280.35 1384.7,1278.47 1388.85,1276.47 1393.01,1275.11 1397.16,1273.02 1401.32,1271.17 1405.47,1269.66 1409.63,1267.81 1413.78,1265.93 1417.94,1264.05 1422.09,1262.17 1426.25,1260.3 1430.41,1258.42 1434.56,1256.55 1438.72,1254.68 1442.87,1252.57 1447.03,1250.67 1451.18,1248.55 1455.34,1246.76 1459.49,1245.03 1463.65,1243.31 1467.8,1241.13 1471.96,1239.09 1476.11,1237.35 1476.11,1350.65 1471.96,1351.02 1467.8,1351.17 1463.65,1351.32 1459.49,1351.46 1455.34,1351.6 1451.18,1351.73 1447.03,1351.87 1442.87,1351.9 1438.72,1352.16 1434.56,1352.46 1430.41,1352.76 1426.25,1353.06 1422.09,1353.34 1417.94,1353.78 1413.78,1354.37 1409.63,1354.94 1405.47,1355.57 1401.32,1355.99 1397.16,1356.37 1393.01,1356.95 1388.85,1357.53 1384.7,1358.48 1380.54,1358.68 1376.39,1359.26 1372.23,1359.84 1368.08,1360.42 1363.92,1361.28 1359.76,1361.86 1355.61,1362.33 1351.45,1362.75 1347.3,1363.32 1343.14,1363.73 1338.99,1364.41 1334.83,1365.07 1330.68,1365.95 1326.52,1367.1 1322.37,1367.71 1318.21,1368.56 1314.06,1369.06 1309.9,1370.07 1305.74,1371.22 1301.59,1371.9 1297.43,1373.05 1293.28,1374.18 1289.12,1375.51 1284.97,1376.84 1280.81,1378.19 1276.66,1378.96 1272.5,1380.09 1268.35,1381.33 1264.19,1382.46 1260.04,1383.72 1255.88,1385.06 1251.73,1386.84 1247.57,1388.29 1243.41,1389.53 1239.26,1391.19 1235.1,1392.67 1230.95,1394.22 1226.79,1395.57 1222.64,1397.03 1218.48,1398.43 1214.33,1400.14 1210.17,1402.01 1206.02,1403.88 1201.86,1405.77 1197.71,1408.21 1193.55,1409.49 1189.39,1411.35 1185.24,1412.9 1181.08,1414.55 1176.93,1416.4 1172.77,1418.24 1168.62,1420.2 1164.46,1422.38 1160.31,1424.41 1156.15,1426.28 1152,1428.15 1147.84,1430.03 1143.69,1431.88 1139.53,1433.45 1135.38,1435.53 1131.22,1437.62 1127.06,1439.99 1122.91,1442.06 1118.75,1443.93 1114.6,1446.04 1110.44,1448.14 1106.29,1450.24 1102.13,1452.33 1097.98,1454.57 1093.82,1457.21 1089.67,1459.3 1085.51,1461.2 1081.36,1463.02 1077.2,1464.86 1073.05,1466.93 1068.89,1469.05 1064.73,1471.14" fill="#d65f5f" fill-opacity="0.15"/>
<line x1="1031.66" y1="1364.68" x2="1531.4" y2="1226.36" stroke="#4878d0" stroke-width="2.7" stroke-linecap="butt"/>
<line x1="1064.73" y1="1409.18" x2="1476.11" y2="1290.27" stroke="#d65f5f" stroke-width="2.7" stroke-linecap="butt"/>
</g>
<path d="M973.65 976.9V1553.25H1534.9" fill="none" stroke="#484848" stroke-width="1.74" stroke-linecap="square" stroke-linejoin="round"/>
<text transform="translate(959.35 1559.9) scale(1 1.07)" font-size="15.28" text-anchor="end" textLength="20" lengthAdjust="spacing" style="font-kerning:none">70</text>
<text transform="translate(959.35 1490.65) scale(1 1.07)" font-size="15.28" text-anchor="end" textLength="20" lengthAdjust="spacing" style="font-kerning:none">80</text>
<text transform="translate(959.35 1421.4) scale(1 1.07)" font-size="15.28" text-anchor="end" textLength="20" lengthAdjust="spacing" style="font-kerning:none">90</text>
<text transform="translate(959.35 1352.15) scale(1 1.07)" font-size="15.28" text-anchor="end" textLength="30" lengthAdjust="spacing" style="font-kerning:none">100</text>
<text transform="translate(959.35 1282.9) scale(1 1.07)" font-size="15.28" text-anchor="end" textLength="30" lengthAdjust="spacing" style="font-kerning:none">110</text>
<text transform="translate(959.35 1213.65) scale(1 1.07)" font-size="15.28" text-anchor="end" textLength="30" lengthAdjust="spacing" style="font-kerning:none">120</text>
<text transform="translate(959.35 1144.4) scale(1 1.07)" font-size="15.28" text-anchor="end" textLength="30" lengthAdjust="spacing" style="font-kerning:none">130</text>
<text transform="translate(959.35 1075.15) scale(1 1.07)" font-size="15.28" text-anchor="end" textLength="30" lengthAdjust="spacing" style="font-kerning:none">140</text>
<text transform="translate(959.35 1005.9) scale(1 1.07)" font-size="15.28" text-anchor="end" textLength="30" lengthAdjust="spacing" style="font-kerning:none">150</text>
<text transform="translate(973.65 1580.6) scale(1 1.07)" font-size="15.28" text-anchor="middle" textLength="23" lengthAdjust="spacing" style="font-kerning:none">−3</text>
<text transform="translate(1067.36 1580.6) scale(1 1.07)" font-size="15.28" text-anchor="middle" textLength="23" lengthAdjust="spacing" style="font-kerning:none">−2</text>
<text transform="translate(1161.07 1580.6) scale(1 1.07)" font-size="15.28" text-anchor="middle" textLength="23" lengthAdjust="spacing" style="font-kerning:none">−1</text>
<text transform="translate(1254.78 1580.6) scale(1 1.07)" font-size="15.28" text-anchor="middle" textLength="10" lengthAdjust="spacing" style="font-kerning:none">0</text>
<text transform="translate(1348.48 1580.6) scale(1 1.07)" font-size="15.28" text-anchor="middle" textLength="10" lengthAdjust="spacing" style="font-kerning:none">1</text>
<text transform="translate(1442.19 1580.6) scale(1 1.07)" font-size="15.28" text-anchor="middle" textLength="10" lengthAdjust="spacing" style="font-kerning:none">2</text>
<text transform="translate(1535.9 1580.6) scale(1 1.07)" font-size="15.28" text-anchor="middle" textLength="10" lengthAdjust="spacing" style="font-kerning:none">3</text>
<text transform="translate(1254.28 1604.65) scale(1 1.07)" font-size="16.67" text-anchor="middle" textLength="82" lengthAdjust="spacing" style="font-kerning:none">PRS_cogP</text>
<text transform="translate(916.9 1265.88) rotate(-90) scale(1 1.07)" font-size="16.67" text-anchor="middle" textLength="103.6" lengthAdjust="spacing" style="font-kerning:none">Full WAIS IQ</text>
<text transform="translate(1550.3 1274.4) scale(1 1.07)" font-size="16.67" text-anchor="start" textLength="96.4" lengthAdjust="spacing" style="font-kerning:none">Conversion</text>
<g fill="#4878d0" stroke="#4878d0" fill-opacity="0.8" stroke-opacity="0.8" stroke-width="1.39"><ellipse cx="1561.4" cy="1294" rx="4.5" ry="4.8"/></g>
<text transform="translate(1589.2 1298.4) scale(1 1.07)" font-size="15.28" text-anchor="start" textLength="62.1" lengthAdjust="spacing" style="font-kerning:none">UHR-NC</text>
<g fill="#d65f5f" stroke="#d65f5f" fill-opacity="0.8" stroke-opacity="0.8" stroke-width="1.39"><ellipse cx="1561.4" cy="1318.2" rx="4.5" ry="4.8"/></g>
<text transform="translate(1589.2 1321.8) scale(1 1.07)" font-size="15.28" text-anchor="start" textLength="51" lengthAdjust="spacing" style="font-kerning:none">UHR-C</text>
<clipPath id="c12"><rect x="973.65" y="1810.2" width="561.75" height="576.25"/></clipPath>
<g clip-path="url(#c12)">
<g fill="#4878d0" stroke="#4878d0" fill-opacity="0.8" stroke-opacity="0.8" stroke-width="1.39"><ellipse cx="1203.03" cy="1936.62" rx="4.3" ry="4.6"/><ellipse cx="1263.42" cy="1943.55" rx="4.3" ry="4.6"/><ellipse cx="1192.92" cy="1978.17" rx="4.3" ry="4.6"/><ellipse cx="1162.3" cy="1985.1" rx="4.3" ry="4.6"/><ellipse cx="1216.79" cy="1992.03" rx="4.3" ry="4.6"/><ellipse cx="1203.87" cy="2012.8" rx="4.3" ry="4.6"/><ellipse cx="1191.33" cy="2026.65" rx="4.3" ry="4.6"/><ellipse cx="1285.7" cy="1839.68" rx="4.3" ry="4.6"/><ellipse cx="1284.95" cy="1985.1" rx="4.3" ry="4.6"/><ellipse cx="1159.78" cy="2033.58" rx="4.3" ry="4.6"/><ellipse cx="1122.14" cy="2040.5" rx="4.3" ry="4.6"/><ellipse cx="1202.75" cy="2095.9" rx="4.3" ry="4.6"/><ellipse cx="1104.54" cy="2102.82" rx="4.3" ry="4.6"/><ellipse cx="1110.72" cy="2102.82" rx="4.3" ry="4.6"/><ellipse cx="1088.72" cy="2116.68" rx="4.3" ry="4.6"/><ellipse cx="1053.04" cy="2130.53" rx="4.3" ry="4.6"/><ellipse cx="1246.85" cy="2130.53" rx="4.3" ry="4.6"/><ellipse cx="1255.84" cy="2130.53" rx="4.3" ry="4.6"/><ellipse cx="1263.04" cy="2137.45" rx="4.3" ry="4.6"/><ellipse cx="1114.27" cy="2144.38" rx="4.3" ry="4.6"/><ellipse cx="1138.9" cy="2144.38" rx="4.3" ry="4.6"/><ellipse cx="1248.35" cy="2144.38" rx="4.3" ry="4.6"/><ellipse cx="1102.29" cy="2151.3" rx="4.3" ry="4.6"/><ellipse cx="1129.82" cy="2151.3" rx="4.3" ry="4.6"/><ellipse cx="1142.17" cy="2151.3" rx="4.3" ry="4.6"/><ellipse cx="1182.25" cy="2151.3" rx="4.3" ry="4.6"/><ellipse cx="1190.86" cy="2151.3" rx="4.3" ry="4.6"/><ellipse cx="1218.76" cy="2151.3" rx="4.3" ry="4.6"/><ellipse cx="1104.72" cy="2158.22" rx="4.3" ry="4.6"/><ellipse cx="1015.59" cy="2172.07" rx="4.3" ry="4.6"/><ellipse cx="1207.53" cy="2172.07" rx="4.3" ry="4.6"/><ellipse cx="1257.9" cy="2172.07" rx="4.3" ry="4.6"/><ellipse cx="1244.88" cy="2185.93" rx="4.3" ry="4.6"/><ellipse cx="1248.72" cy="2185.93" rx="4.3" ry="4.6"/><ellipse cx="1263.04" cy="2185.93" rx="4.3" ry="4.6"/><ellipse cx="1306.67" cy="2054.35" rx="4.3" ry="4.6"/><ellipse cx="1347.78" cy="2054.35" rx="4.3" ry="4.6"/><ellipse cx="1321" cy="2068.2" rx="4.3" ry="4.6"/><ellipse cx="1279.24" cy="2075.12" rx="4.3" ry="4.6"/><ellipse cx="1344.87" cy="2109.75" rx="4.3" ry="4.6"/><ellipse cx="1367.62" cy="2123.6" rx="4.3" ry="4.6"/><ellipse cx="1290.48" cy="2130.53" rx="4.3" ry="4.6"/><ellipse cx="1390.37" cy="2137.45" rx="4.3" ry="4.6"/><ellipse cx="1518.27" cy="2158.22" rx="4.3" ry="4.6"/><ellipse cx="1294.69" cy="2172.07" rx="4.3" ry="4.6"/><ellipse cx="1280.93" cy="2179" rx="4.3" ry="4.6"/><ellipse cx="1125.23" cy="2199.78" rx="4.3" ry="4.6"/><ellipse cx="1101.73" cy="2206.7" rx="4.3" ry="4.6"/><ellipse cx="1234.4" cy="2206.7" rx="4.3" ry="4.6"/><ellipse cx="1160.15" cy="2213.62" rx="4.3" ry="4.6"/><ellipse cx="1232.52" cy="2220.55" rx="4.3" ry="4.6"/><ellipse cx="1075.33" cy="2234.4" rx="4.3" ry="4.6"/><ellipse cx="1156.69" cy="2248.25" rx="4.3" ry="4.6"/><ellipse cx="1171.76" cy="2275.95" rx="4.3" ry="4.6"/><ellipse cx="1211.55" cy="2303.65" rx="4.3" ry="4.6"/><ellipse cx="1102.29" cy="2324.43" rx="4.3" ry="4.6"/><ellipse cx="1128.79" cy="2331.35" rx="4.3" ry="4.6"/><ellipse cx="1262.76" cy="2206.7" rx="4.3" ry="4.6"/><ellipse cx="1350.87" cy="2206.7" rx="4.3" ry="4.6"/><ellipse cx="1290.66" cy="2234.4" rx="4.3" ry="4.6"/><ellipse cx="1289.92" cy="2275.95" rx="4.3" ry="4.6"/></g>
<polygon points="1015.59,2119.86 1020.67,2119.59 1025.75,2119.91 1030.83,2119.81 1035.9,2119.56 1040.98,2119.34 1046.06,2119.13 1051.14,2119.23 1056.21,2119.35 1061.29,2119.48 1066.37,2119.61 1071.45,2119.64 1076.52,2119.45 1081.6,2119.58 1086.68,2119.13 1091.76,2118.88 1096.83,2119 1101.91,2119.3 1106.99,2119.21 1112.07,2119.18 1117.14,2118.96 1122.22,2118.74 1127.3,2118.52 1132.38,2118.3 1137.45,2118.1 1142.53,2117.87 1147.61,2117.64 1152.69,2117.41 1157.76,2117.21 1162.84,2116.97 1167.92,2116.05 1173,2115.11 1178.07,2114.75 1183.15,2114.4 1188.23,2113.77 1193.31,2112.63 1198.38,2111.94 1203.46,2110.97 1208.54,2110.14 1213.62,2108.95 1218.69,2108.18 1223.77,2107.17 1228.85,2105.33 1233.93,2104.35 1239,2102.8 1244.08,2101.51 1249.16,2099.98 1254.24,2099 1259.31,2098.04 1264.39,2096.55 1269.47,2094.56 1274.55,2092.92 1279.62,2091.56 1284.7,2089.96 1289.78,2087.88 1294.86,2086.64 1299.93,2084.91 1305.01,2082.76 1310.09,2080.84 1315.17,2079.59 1320.24,2077.88 1325.32,2075.88 1330.4,2073.82 1335.48,2072.49 1340.55,2070.95 1345.63,2068.77 1350.71,2066.59 1355.79,2064.41 1360.86,2062.3 1365.94,2061.03 1371.02,2059.23 1376.1,2057.7 1381.17,2055.44 1386.25,2053.17 1391.33,2050.91 1396.41,2049.23 1401.48,2047.67 1406.56,2046.06 1411.64,2044.06 1416.72,2042.05 1421.79,2040.36 1426.87,2038.46 1431.95,2036.21 1437.03,2034.09 1442.1,2032.05 1447.18,2030.03 1452.26,2028.14 1457.34,2026.26 1462.41,2024.38 1467.49,2022.5 1472.57,2020.63 1477.65,2018.75 1482.72,2016.88 1487.8,2015 1492.88,2013.13 1497.96,2011.27 1503.03,2009.24 1508.11,2007.19 1513.19,2005.15 1518.27,2003.11 1518.27,2151.44 1513.19,2151.5 1508.11,2151.16 1503.03,2151.21 1497.96,2151.25 1492.88,2150.84 1487.8,2151.27 1482.72,2151.15 1477.65,2150.89 1472.57,2150.62 1467.49,2150.36 1462.41,2150.36 1457.34,2150.12 1452.26,2150.01 1447.18,2149.86 1442.1,2149.83 1437.03,2149.78 1431.95,2149.77 1426.87,2149.75 1421.79,2149.72 1416.72,2149.66 1411.64,2149.43 1406.56,2149.23 1401.48,2149.29 1396.41,2149.34 1391.33,2148.96 1386.25,2148.84 1381.17,2148.72 1376.1,2148.48 1371.02,2148.85 1365.94,2149 1360.86,2148.84 1355.79,2148.99 1350.71,2148.92 1345.63,2148.75 1340.55,2149.26 1335.48,2149.43 1330.4,2149.68 1325.32,2149.56 1320.24,2149.1 1315.17,2149 1310.09,2149.41 1305.01,2149.78 1299.93,2149.82 1294.86,2149.6 1289.78,2149.87 1284.7,2150.07 1279.62,2150.43 1274.55,2150.65 1269.47,2150.8 1264.39,2151.1 1259.31,2151.53 1254.24,2151.73 1249.16,2152.19 1244.08,2152.91 1239,2153.9 1233.93,2154.25 1228.85,2155.24 1223.77,2155.79 1218.69,2156.82 1213.62,2157.59 1208.54,2158.48 1203.46,2159.45 1198.38,2160.31 1193.31,2161.44 1188.23,2162.41 1183.15,2163.65 1178.07,2164.78 1173,2165.63 1167.92,2166.75 1162.84,2167.95 1157.76,2169.31 1152.69,2170.55 1147.61,2171.53 1142.53,2172.73 1137.45,2174.06 1132.38,2175.7 1127.3,2177.85 1122.22,2179.39 1117.14,2180.54 1112.07,2181.8 1106.99,2183.17 1101.91,2184.72 1096.83,2186.82 1091.76,2188.36 1086.68,2189.68 1081.6,2191 1076.52,2192.64 1071.45,2194.79 1066.37,2196.53 1061.29,2198.03 1056.21,2199.7 1051.14,2201.88 1046.06,2203.83 1040.98,2205.92 1035.9,2207.3 1030.83,2208.68 1025.75,2210.05 1020.67,2211.78 1015.59,2213.83" fill="#4878d0" fill-opacity="0.15"/>
<g fill="#d65f5f" stroke="#d65f5f" fill-opacity="0.8" stroke-opacity="0.8" stroke-width="1.39"><ellipse cx="1215.3" cy="2047.42" rx="4.3" ry="4.6"/><ellipse cx="1243.01" cy="2075.12" rx="4.3" ry="4.6"/><ellipse cx="1166.61" cy="2095.9" rx="4.3" ry="4.6"/><ellipse cx="1234.02" cy="2109.75" rx="4.3" ry="4.6"/><ellipse cx="1203.87" cy="2123.6" rx="4.3" ry="4.6"/><ellipse cx="1175.79" cy="2130.53" rx="4.3" ry="4.6"/><ellipse cx="1152.85" cy="2137.45" rx="4.3" ry="4.6"/><ellipse cx="1091.62" cy="2158.22" rx="4.3" ry="4.6"/><ellipse cx="1241.89" cy="2165.15" rx="4.3" ry="4.6"/><ellipse cx="1193.58" cy="2172.07" rx="4.3" ry="4.6"/><ellipse cx="1032.35" cy="2179" rx="4.3" ry="4.6"/><ellipse cx="1220.26" cy="2185.93" rx="4.3" ry="4.6"/><ellipse cx="1348.34" cy="2047.42" rx="4.3" ry="4.6"/><ellipse cx="1287.76" cy="2095.9" rx="4.3" ry="4.6"/><ellipse cx="1356.95" cy="2109.75" rx="4.3" ry="4.6"/><ellipse cx="1315.29" cy="2123.6" rx="4.3" ry="4.6"/><ellipse cx="1330.17" cy="2172.07" rx="4.3" ry="4.6"/><ellipse cx="1196.2" cy="2206.7" rx="4.3" ry="4.6"/><ellipse cx="1125.6" cy="2234.4" rx="4.3" ry="4.6"/><ellipse cx="1165.67" cy="2234.4" rx="4.3" ry="4.6"/><ellipse cx="1167.17" cy="2241.32" rx="4.3" ry="4.6"/><ellipse cx="1056.79" cy="2262.1" rx="4.3" ry="4.6"/><ellipse cx="1099.76" cy="2269.03" rx="4.3" ry="4.6"/><ellipse cx="1125.98" cy="2275.95" rx="4.3" ry="4.6"/><ellipse cx="1023.36" cy="2282.88" rx="4.3" ry="4.6"/><ellipse cx="1183.09" cy="2282.88" rx="4.3" ry="4.6"/><ellipse cx="1052.39" cy="2310.57" rx="4.3" ry="4.6"/><ellipse cx="1201.35" cy="2331.35" rx="4.3" ry="4.6"/><ellipse cx="1280.93" cy="2206.7" rx="4.3" ry="4.6"/><ellipse cx="1271.38" cy="2234.4" rx="4.3" ry="4.6"/></g>
<polygon points="1023.36,2219.86 1026.73,2219.15 1030.1,2218.44 1033.47,2217.34 1036.84,2216.15 1040.21,2215.21 1043.58,2214.44 1046.95,2213.4 1050.32,2212.25 1053.69,2211.06 1057.06,2209.87 1060.43,2209.01 1063.8,2208.19 1067.17,2207.17 1070.54,2206.13 1073.91,2205.08 1077.28,2204.03 1080.65,2202.98 1084.02,2201.89 1087.39,2200.41 1090.76,2198.99 1094.13,2198.34 1097.5,2197.12 1100.86,2196.32 1104.23,2195.14 1107.6,2193.91 1110.97,2192.82 1114.34,2191.65 1117.71,2190.47 1121.08,2189.17 1124.45,2188.12 1127.82,2186.94 1131.19,2185.76 1134.56,2184.59 1137.93,2183.42 1141.3,2182.25 1144.67,2181.06 1148.04,2179.91 1151.41,2178.94 1154.78,2177.6 1158.15,2176.38 1161.52,2175.2 1164.89,2173.84 1168.26,2172.82 1171.63,2171.65 1174.99,2170.46 1178.36,2169.03 1181.73,2167.72 1185.1,2166.29 1188.47,2164.73 1191.84,2163.11 1195.21,2161.4 1198.58,2159.8 1201.95,2158.7 1205.32,2157.02 1208.69,2155.22 1212.06,2153.09 1215.43,2151.16 1218.8,2149.7 1222.17,2147.86 1225.54,2145.87 1228.91,2144.15 1232.28,2142.55 1235.65,2140.77 1239.02,2138.97 1242.39,2137.24 1245.76,2135.5 1249.13,2133.6 1252.49,2131.76 1255.86,2129.93 1259.23,2127.92 1262.6,2125.75 1265.97,2123.6 1269.34,2121.46 1272.71,2119.83 1276.08,2117.78 1279.45,2116.15 1282.82,2114.13 1286.19,2112.1 1289.56,2110.14 1292.93,2107.97 1296.3,2105.9 1299.67,2103.83 1303.04,2101.78 1306.41,2100.38 1309.78,2098.98 1313.15,2097 1316.52,2094.92 1319.89,2092.49 1323.26,2090.07 1326.62,2087.8 1329.99,2085.4 1333.36,2083.26 1336.73,2081.26 1340.1,2079.42 1343.47,2077.58 1346.84,2075.74 1350.21,2073.9 1353.58,2071.83 1356.95,2069.59 1356.95,2171.38 1353.58,2172.67 1350.21,2173.53 1346.84,2174.01 1343.47,2174.46 1340.1,2175.26 1336.73,2176.07 1333.36,2176.86 1329.99,2177.53 1326.62,2178.33 1323.26,2179.14 1319.89,2179.95 1316.52,2180.76 1313.15,2181.57 1309.78,2182.39 1306.41,2183.2 1303.04,2184.06 1299.67,2184.93 1296.3,2185.79 1292.93,2186.64 1289.56,2187.45 1286.19,2188.27 1282.82,2189.26 1279.45,2190 1276.08,2190.74 1272.71,2191.62 1269.34,2192.62 1265.97,2193.32 1262.6,2194.03 1259.23,2194.92 1255.86,2196.12 1252.49,2197.14 1249.13,2198.46 1245.76,2199.79 1242.39,2200.55 1239.02,2201.73 1235.65,2202.77 1232.28,2203.89 1228.91,2204.93 1225.54,2205.96 1222.17,2207.33 1218.8,2208.7 1215.43,2209.87 1212.06,2211.62 1208.69,2213.1 1205.32,2214.44 1201.95,2215.83 1198.58,2217.06 1195.21,2218.84 1191.84,2219.92 1188.47,2221.9 1185.1,2223.29 1181.73,2224.79 1178.36,2226.61 1174.99,2228.73 1171.63,2230.84 1168.26,2232.93 1164.89,2234.83 1161.52,2236.53 1158.15,2238.23 1154.78,2240.01 1151.41,2241.54 1148.04,2243.31 1144.67,2245.16 1141.3,2247.09 1137.93,2249.12 1134.56,2251.21 1131.19,2252.71 1127.82,2254.67 1124.45,2256.55 1121.08,2258.32 1117.71,2260.17 1114.34,2261.42 1110.97,2263.47 1107.6,2265.6 1104.23,2267.64 1100.86,2269.52 1097.5,2271.39 1094.13,2273.09 1090.76,2275.12 1087.39,2276.93 1084.02,2278.95 1080.65,2281.17 1077.28,2283.39 1073.91,2285.59 1070.54,2287.87 1067.17,2290.01 1063.8,2292.23 1060.43,2294.44 1057.06,2296.66 1053.69,2298.87 1050.32,2301.08 1046.95,2303.28 1043.58,2305.47 1040.21,2307.34 1036.84,2309.19 1033.47,2311.09 1030.1,2313.02 1026.73,2314.91 1023.36,2316.81" fill="#d65f5f" fill-opacity="0.15"/>
<line x1="1015.59" y1="2164.75" x2="1518.27" y2="2089.77" stroke="#4878d0" stroke-width="2.7" stroke-linecap="butt"/>
<line x1="1023.36" y1="2269.01" x2="1356.95" y2="2114.91" stroke="#d65f5f" stroke-width="2.7" stroke-linecap="butt"/>
</g>
<path d="M973.65 1810.2V2386.45H1534.9" fill="none" stroke="#484848" stroke-width="1.74" stroke-linecap="square" stroke-linejoin="round"/>
<text transform="translate(959.35 2393.1) scale(1 1.07)" font-size="15.28" text-anchor="end" textLength="20" lengthAdjust="spacing" style="font-kerning:none">70</text>
<text transform="translate(959.35 2323.85) scale(1 1.07)" font-size="15.28" text-anchor="end" textLength="20" lengthAdjust="spacing" style="font-kerning:none">80</text>
<text transform="translate(959.35 2254.6) scale(1 1.07)" font-size="15.28" text-anchor="end" textLength="20" lengthAdjust="spacing" style="font-kerning:none">90</text>
<text transform="translate(959.35 2185.35) scale(1 1.07)" font-size="15.28" text-anchor="end" textLength="30" lengthAdjust="spacing" style="font-kerning:none">100</text>
<text transform="translate(959.35 2116.1) scale(1 1.07)" font-size="15.28" text-anchor="end" textLength="30" lengthAdjust="spacing" style="font-kerning:none">110</text>
<text transform="translate(959.35 2046.85) scale(1 1.07)" font-size="15.28" text-anchor="end" textLength="30" lengthAdjust="spacing" style="font-kerning:none">120</text>
<text transform="translate(959.35 1977.6) scale(1 1.07)" font-size="15.28" text-anchor="end" textLength="30" lengthAdjust="spacing" style="font-kerning:none">130</text>
<text transform="translate(959.35 1908.35) scale(1 1.07)" font-size="15.28" text-anchor="end" textLength="30" lengthAdjust="spacing" style="font-kerning:none">140</text>
<text transform="translate(959.35 1839.1) scale(1 1.07)" font-size="15.28" text-anchor="end" textLength="30" lengthAdjust="spacing" style="font-kerning:none">150</text>
<text transform="translate(1020.46 2413.8) scale(1 1.07)" font-size="15.28" text-anchor="middle" textLength="23" lengthAdjust="spacing" style="font-kerning:none">−2</text>
<text transform="translate(1114.09 2413.8) scale(1 1.07)" font-size="15.28" text-anchor="middle" textLength="23" lengthAdjust="spacing" style="font-kerning:none">−1</text>
<text transform="translate(1207.71 2413.8) scale(1 1.07)" font-size="15.28" text-anchor="middle" textLength="10" lengthAdjust="spacing" style="font-kerning:none">0</text>
<text transform="translate(1301.34 2413.8) scale(1 1.07)" font-size="15.28" text-anchor="middle" textLength="10" lengthAdjust="spacing" style="font-kerning:none">1</text>
<text transform="translate(1394.96 2413.8) scale(1 1.07)" font-size="15.28" text-anchor="middle" textLength="10" lengthAdjust="spacing" style="font-kerning:none">2</text>
<text transform="translate(1488.59 2413.8) scale(1 1.07)" font-size="15.28" text-anchor="middle" textLength="10" lengthAdjust="spacing" style="font-kerning:none">3</text>
<text transform="translate(1254.28 2437.85) scale(1 1.07)" font-size="16.67" text-anchor="middle" textLength="165" lengthAdjust="spacing" style="font-kerning:none">PRS_SCZ_resilience</text>
<text transform="translate(916.9 2099.12) rotate(-90) scale(1 1.07)" font-size="16.67" text-anchor="middle" textLength="103.6" lengthAdjust="spacing" style="font-kerning:none">Full WAIS IQ</text>
<text transform="translate(1550.3 2107.6) scale(1 1.07)" font-size="16.67" text-anchor="start" textLength="96.4" lengthAdjust="spacing" style="font-kerning:none">Conversion</text>
<g fill="#4878d0" stroke="#4878d0" fill-opacity="0.8" stroke-opacity="0.8" stroke-width="1.39"><ellipse cx="1561.4" cy="2127.2" rx="4.5" ry="4.8"/></g>
<text transform="translate(1589.2 2131.6) scale(1 1.07)" font-size="15.28" text-anchor="start" textLength="62.1" lengthAdjust="spacing" style="font-kerning:none">UHR-NC</text>
<g fill="#d65f5f" stroke="#d65f5f" fill-opacity="0.8" stroke-opacity="0.8" stroke-width="1.39"><ellipse cx="1561.4" cy="2151.4" rx="4.5" ry="4.8"/></g>
<text transform="translate(1589.2 2155) scale(1 1.07)" font-size="15.28" text-anchor="start" textLength="51" lengthAdjust="spacing" style="font-kerning:none">UHR-C</text>
</svg>
</body></html>
